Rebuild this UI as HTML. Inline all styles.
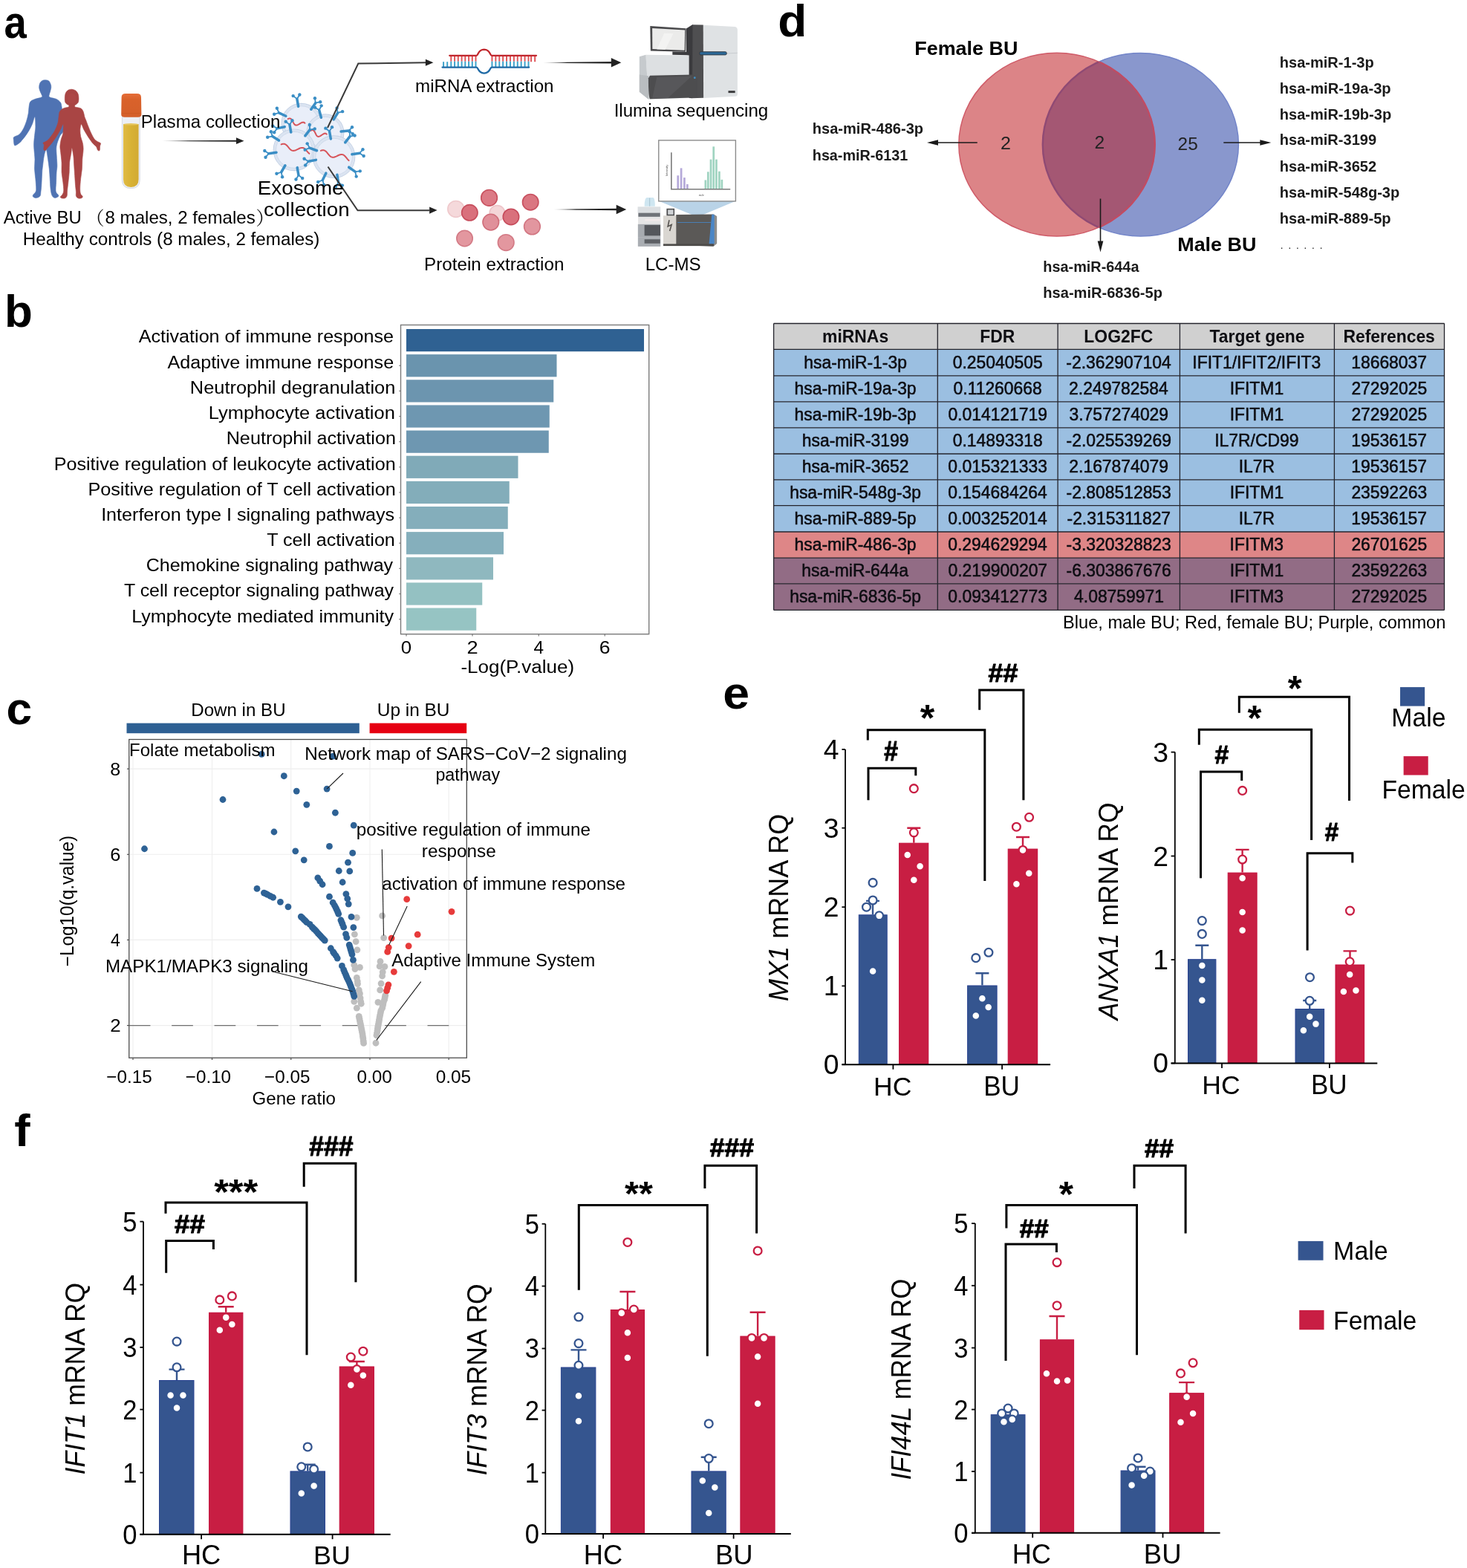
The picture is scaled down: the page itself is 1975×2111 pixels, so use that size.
<!DOCTYPE html>
<html lang="en"><head><meta charset="utf-8"><title>Figure</title>
<style>
html,body{margin:0;padding:0;background:#fff;}
body{width:1975px;height:2111px;overflow:hidden;}
svg{display:block;font-family:"Liberation Sans","Noto Sans CJK SC",sans-serif;}
</style></head><body>
<svg width="1975" height="2111" viewBox="0 0 1975 2111">
<rect width="1975" height="2111" fill="#fff"/>
<g id="panel-a">
<text transform="translate(5.57,51.1) scale(0.8990,1)" font-size="60.5" font-weight="bold">a</text>
<path d="M60.62 107.75 C62.08 107.78 64.21 107.89 65.46 108.8 C66.7 109.71 67.54 111.74 68.1 113.2 C68.66 114.67 68.88 115.99 68.8 117.61 C68.73 119.22 68.07 121.27 67.66 122.89 C67.25 124.5 66.48 125.97 66.34 127.29 C66.19 128.61 65.16 129.78 66.78 130.81 C68.39 131.84 73.6 132.28 76.02 133.45 C78.44 134.62 80.13 136.09 81.3 137.85 C82.48 139.61 82.48 140.05 83.06 144.01 C83.65 147.98 84.31 156.48 84.82 161.62 C85.34 166.75 86.88 171.16 86.14 174.82 C85.41 178.49 82.11 179.96 80.42 183.63 C78.74 187.29 76.73 192.43 76.02 196.83 C75.32 201.23 76.05 205.63 76.2 210.04 C76.34 214.44 76.93 219.57 76.9 223.24 C76.87 226.91 76.24 228.37 76.02 232.04 C75.8 235.71 75.73 240.99 75.58 245.25 C75.43 249.5 74.63 254.64 75.14 257.57 C75.65 260.5 78.22 261.61 78.66 262.85 C79.1 264.1 78.66 264.47 77.78 265.05 C76.9 265.64 74.7 266.74 73.38 266.37 C72.06 266.01 70.74 264.91 69.86 262.85 C68.98 260.8 68.54 257.72 68.1 254.05 C67.66 250.38 67.51 245.25 67.22 240.85 C66.92 236.44 66.78 232.04 66.34 227.64 C65.9 223.24 65.19 218.69 64.58 214.44 C63.96 210.18 63.15 204.17 62.64 202.11 C62.13 200.06 62.05 200.79 61.5 202.11 C60.94 203.43 59.96 206.51 59.3 210.04 C58.64 213.56 57.98 219.57 57.54 223.24 C57.1 226.91 56.95 227.64 56.65 232.04 C56.36 236.44 56.07 245.25 55.77 249.65 C55.48 254.05 55.19 256.1 54.89 258.45 C54.6 260.8 54.89 262.41 54.01 263.73 C53.13 265.05 51.08 266.08 49.61 266.37 C48.15 266.67 46.09 266.08 45.21 265.49 C44.33 264.91 43.89 264.03 44.33 262.85 C44.77 261.68 47.12 259.92 47.85 258.45 C48.59 256.98 48.73 256.98 48.73 254.05 C48.73 251.12 48.22 245.25 47.85 240.85 C47.49 236.44 46.68 232.04 46.53 227.64 C46.38 223.24 47.07 218.84 46.97 214.44 C46.87 210.04 46.14 204.9 45.92 201.23 C45.7 197.56 45.48 196.1 45.65 192.43 C45.83 188.76 46.61 182.89 46.97 179.23 C47.34 175.56 47.85 174.09 47.85 170.42 C47.85 166.75 47.71 157.81 46.97 157.22 C46.24 156.63 44.77 163.82 43.45 166.9 C42.13 169.98 40.66 172.92 39.05 175.7 C37.44 178.49 35.38 181.43 33.77 183.63 C32.15 185.83 30.54 187.51 29.37 188.91 C28.19 190.3 28.05 190.89 26.73 191.99 C25.4 193.09 22.69 195 21.44 195.51 C20.2 196.02 19.76 196.32 19.24 195.07 C18.73 193.82 18.44 189.79 18.36 188.03 C18.29 186.27 17.56 185.68 18.8 184.51 C20.05 183.33 23.79 182.75 25.85 180.99 C27.9 179.23 29.51 176.88 31.13 173.94 C32.74 171.01 34.35 166.9 35.53 163.38 C36.7 159.86 37.58 156.04 38.17 152.82 C38.76 149.59 38.61 146.65 39.05 144.01 C39.49 141.37 39.49 138.73 40.81 136.97 C42.13 135.21 44.4 134.48 46.97 133.45 C49.54 132.42 54.72 131.84 56.21 130.81 C57.71 129.78 56.32 128.61 55.95 127.29 C55.58 125.97 54.56 124.43 54.01 122.89 C53.47 121.35 52.77 119.81 52.69 118.05 C52.62 116.29 52.91 113.89 53.57 112.32 C54.23 110.75 55.48 109.39 56.65 108.63 C57.83 107.86 59.15 107.72 60.62 107.75Z" fill="#4f73b3" stroke="#4f73b3" stroke-width="0.6" stroke-linejoin="round"/>
<path d="M95.83 120.25 C97.62 120.22 100.01 120.8 101.55 121.83 C103.09 122.86 104.34 124.62 105.07 126.41 C105.8 128.2 105.92 130.66 105.95 132.57 C105.98 134.48 105.83 136.5 105.25 137.85 C104.66 139.2 103.12 140.08 102.43 140.67 C101.74 141.26 101.33 140.82 101.11 141.37 C100.89 141.93 99.86 143.28 101.11 144.01 C102.36 144.75 106.76 144.75 108.59 145.77 C110.43 146.8 111.23 148.27 112.11 150.18 C112.99 152.08 113.29 155.31 113.87 157.22 C114.46 159.13 114.9 159.71 115.63 161.62 C116.37 163.53 117.1 165.73 118.27 168.66 C119.45 171.6 121.21 176.14 122.68 179.23 C124.14 182.31 125.61 185.24 127.08 187.15 C128.54 189.06 130.09 189.72 131.48 190.67 C132.87 191.62 134.93 191.84 135.44 192.87 C135.95 193.9 134.78 195.22 134.56 196.83 C134.34 198.44 134.63 201.67 134.12 202.55 C133.61 203.43 132.21 202.92 131.48 202.11 C130.75 201.31 130.89 199.33 129.72 197.71 C128.54 196.1 126.34 194.78 124.44 192.43 C122.53 190.08 120.18 186.56 118.27 183.63 C116.37 180.69 114.46 177.54 112.99 174.82 C111.53 172.11 110.32 167.34 109.47 167.34 C108.62 167.34 108.03 172.11 107.89 174.82 C107.74 177.54 108.03 180.69 108.59 183.63 C109.15 186.56 110.65 189.5 111.23 192.43 C111.82 195.36 112.19 197.56 112.11 201.23 C112.04 204.9 111.09 210.04 110.79 214.44 C110.5 218.84 110.72 223.24 110.35 227.64 C109.99 232.04 109.03 236.44 108.59 240.85 C108.15 245.25 107.71 250.67 107.71 254.05 C107.71 257.42 108 259.33 108.59 261.09 C109.18 262.85 111.09 263.66 111.23 264.61 C111.38 265.57 110.5 266.45 109.47 266.81 C108.44 267.18 106.24 267.33 105.07 266.81 C103.9 266.3 102.87 265.13 102.43 263.73 C101.99 262.34 102.58 260.8 102.43 258.45 C102.28 256.1 101.84 253.32 101.55 249.65 C101.26 245.98 100.96 240.85 100.67 236.44 C100.38 232.04 100.08 227.64 99.79 223.24 C99.5 218.84 99.35 213.92 98.91 210.04 C98.47 206.15 97.56 201.6 97.15 199.91 C96.74 198.22 96.66 198.96 96.44 199.91 C96.22 200.87 96.3 202.48 95.83 205.63 C95.36 208.79 94.07 214.44 93.63 218.84 C93.19 223.24 93.48 227.64 93.19 232.04 C92.89 236.44 92.31 241.14 91.87 245.25 C91.43 249.35 90.84 253.61 90.55 256.69 C90.25 259.77 90.62 262.05 90.11 263.73 C89.59 265.42 88.64 266.3 87.46 266.81 C86.29 267.33 84.09 267.11 83.06 266.81 C82.04 266.52 81.16 265.86 81.3 265.05 C81.45 264.25 83.21 263.37 83.94 261.97 C84.68 260.58 85.56 259.48 85.7 256.69 C85.85 253.9 85.26 249.35 84.82 245.25 C84.38 241.14 83.36 236.44 83.06 232.04 C82.77 227.64 83.28 223.24 83.06 218.84 C82.84 214.44 82.11 209.3 81.74 205.63 C81.38 201.97 80.79 199.77 80.86 196.83 C80.94 193.9 81.52 190.96 82.18 188.03 C82.84 185.09 84.35 182.67 84.82 179.23 C85.29 175.78 85.59 168.08 85 167.34 C84.41 166.61 82.8 172.11 81.3 174.82 C79.81 177.54 77.93 180.69 76.02 183.63 C74.11 186.56 71.77 189.94 69.86 192.43 C67.95 194.92 66.04 196.9 64.58 198.59 C63.11 200.28 62.01 202.11 61.06 202.55 C60.1 202.99 59.15 202.48 58.86 201.23 C58.56 199.99 59.44 196.54 59.3 195.07 C59.15 193.6 57.39 193.31 57.98 192.43 C58.56 191.55 61.28 190.96 62.82 189.79 C64.36 188.62 65.46 187.59 67.22 185.39 C68.98 183.19 71.62 179.81 73.38 176.58 C75.14 173.36 76.83 169.25 77.78 166.02 C78.74 162.79 78.66 159.86 79.1 157.22 C79.54 154.58 79.32 152.08 80.42 150.18 C81.52 148.27 83.72 146.8 85.7 145.77 C87.68 144.75 91.19 144.75 92.31 144.01 C93.42 143.28 92.69 141.93 92.39 141.37 C92.1 140.82 91.29 141.26 90.55 140.67 C89.8 140.08 88.45 139.2 87.9 137.85 C87.36 136.5 87.27 134.48 87.29 132.57 C87.3 130.66 87.41 128.17 87.99 126.41 C88.58 124.65 89.5 123.03 90.81 122.01 C92.12 120.98 94.04 120.28 95.83 120.25Z" fill="#a94544" stroke="#a94544" stroke-width="0.6" stroke-linejoin="round"/>
<ellipse cx="96.71" cy="132.57" rx="5.6" ry="7" fill="#b04a48" opacity="0.6"/>
<defs><linearGradient id="tubeliq" x1="0" x2="1" y1="0" y2="0"><stop offset="0" stop-color="#e0bb45"/><stop offset="0.5" stop-color="#d8b235"/><stop offset="1" stop-color="#d2aa33"/></linearGradient><linearGradient id="tubecap" x1="0" x2="0" y1="0" y2="1"><stop offset="0" stop-color="#e56d38"/><stop offset="0.25" stop-color="#d9622b"/><stop offset="1" stop-color="#d45f2a"/></linearGradient></defs>
<path d="M164.4 155 V242.5 Q164.4 253.6 176.3 253.6 Q188.2 253.6 188.2 242.5 V155 Z" fill="#eceff5" stroke="#d5dae4" stroke-width="1"/>
<path d="M166 167 H186.6 V241.5 Q186.6 252 176.3 252 Q166 252 166 241.5 Z" fill="url(#tubeliq)"/>
<ellipse cx="176.3" cy="167.3" rx="10.3" ry="1.2" fill="#e6c660"/>
<path d="M163.6 131 Q163.6 126 169 126 H184.6 Q190 126 190 131 L190.4 154 Q190.4 157.8 186 157.8 H167.6 Q163.2 157.8 163.2 154 Z" fill="url(#tubecap)"/>
<path d="M164 152.6 H190" stroke="#c2561f" stroke-width="0.8" opacity="0.6"/>
<defs><linearGradient id="fade" x1="0" x2="1" y1="0" y2="0"><stop offset="0" stop-color="#222" stop-opacity="0"/><stop offset="0.35" stop-color="#222" stop-opacity="1"/></linearGradient></defs>
<polygon points="218.5,189.4 319,188.75 319,190.65 218.5,190" fill="url(#fade)"/><polygon points="328.5,189.7 318,194.1 318,185.3" fill="#222"/>
<circle cx="405.65" cy="165.97" r="26.61" fill="#e9eef9" stroke="#c6d3e6" stroke-width="1.1"/>
<circle cx="405.65" cy="165.97" r="24.81" fill="none" stroke="#dbe4f1" stroke-width="2.4"/>
<circle cx="405.65" cy="165.97" r="23.21" fill="none" stroke="#c9d6e8" stroke-width="0.9"/>
<path d="M387.61 160.14 L388.31 159.83 L388.99 159.6 L389.63 159.47 L390.25 159.46 L390.83 159.57 L391.37 159.8 L391.88 160.15 L392.36 160.61 L392.81 161.17 L393.24 161.81 L393.64 162.53 L394.04 163.29 L394.43 164.07 L394.81 164.85 L395.21 165.6 L395.62 166.31 L396.05 166.95 L396.5 167.5 L396.98 167.94 L397.5 168.28 L398.05 168.5 L398.63 168.59 L399.25 168.56 L399.9 168.43 L400.58 168.19 L401.28 167.86 L402 167.47 L402.74 167.04 L403.48 166.58 L404.22 166.12 L404.95 165.69 L405.67 165.31 L406.37 164.99 L407.05 164.76 L407.7 164.64 L408.31 164.62 L408.89 164.73 L409.44 164.96 L409.95 165.31 L410.43 165.77" fill="none" stroke="#d7545a" stroke-width="2.0" stroke-linecap="round" stroke-linejoin="round"/>
<path d="M401.67 143.4 L399.86 133.16" stroke="#3a8ec5" stroke-width="3.5" stroke-linecap="round" fill="none"/><path d="M399.86 133.16 L394.66 129.1" stroke="#3a8ec5" stroke-width="1.7999999999999998" stroke-linecap="round" fill="none"/><circle cx="394.66" cy="129.1" r="2.2" fill="#3a8ec5"/><path d="M399.86 133.16 L403.36 127.56" stroke="#3a8ec5" stroke-width="1.7999999999999998" stroke-linecap="round" fill="none"/><circle cx="403.36" cy="127.56" r="2.2" fill="#3a8ec5"/>
<path d="M384.88 156.28 L375.45 151.89" stroke="#3a8ec5" stroke-width="3.5" stroke-linecap="round" fill="none"/><path d="M375.45 151.89 L369.14 153.82" stroke="#3a8ec5" stroke-width="1.7999999999999998" stroke-linecap="round" fill="none"/><circle cx="369.14" cy="153.82" r="2.2" fill="#3a8ec5"/><path d="M375.45 151.89 L372.87 145.81" stroke="#3a8ec5" stroke-width="1.7999999999999998" stroke-linecap="round" fill="none"/><circle cx="372.87" cy="145.81" r="2.2" fill="#3a8ec5"/>
<path d="M418.79 147.2 L424.75 138.68" stroke="#3a8ec5" stroke-width="3.5" stroke-linecap="round" fill="none"/><path d="M424.75 138.68 L423.95 132.13" stroke="#3a8ec5" stroke-width="1.7999999999999998" stroke-linecap="round" fill="none"/><circle cx="423.95" cy="132.13" r="2.2" fill="#3a8ec5"/><path d="M424.75 138.68 L431.18 137.19" stroke="#3a8ec5" stroke-width="1.7999999999999998" stroke-linecap="round" fill="none"/><circle cx="431.18" cy="137.19" r="2.2" fill="#3a8ec5"/>
<path d="M383.23 170.73 L373.06 172.89" stroke="#3a8ec5" stroke-width="3.5" stroke-linecap="round" fill="none"/><path d="M373.06 172.89 L369.18 178.23" stroke="#3a8ec5" stroke-width="1.7999999999999998" stroke-linecap="round" fill="none"/><circle cx="369.18" cy="178.23" r="2.2" fill="#3a8ec5"/><path d="M373.06 172.89 L367.34 169.59" stroke="#3a8ec5" stroke-width="1.7999999999999998" stroke-linecap="round" fill="none"/><circle cx="367.34" cy="169.59" r="2.2" fill="#3a8ec5"/>
<circle cx="437.9" cy="178.87" r="25" fill="#e9eef9" stroke="#c6d3e6" stroke-width="1.1"/>
<circle cx="437.9" cy="178.87" r="23.2" fill="none" stroke="#dbe4f1" stroke-width="2.4"/>
<circle cx="437.9" cy="178.87" r="21.6" fill="none" stroke="#c9d6e8" stroke-width="0.9"/>
<path d="M418.22 175.86 L418.88 175.52 L419.52 175.27 L420.13 175.12 L420.71 175.09 L421.26 175.18 L421.77 175.39 L422.26 175.72 L422.71 176.16 L423.14 176.7 L423.55 177.33 L423.93 178.03 L424.31 178.77 L424.68 179.53 L425.05 180.29 L425.43 181.03 L425.81 181.72 L426.22 182.34 L426.65 182.87 L427.11 183.3 L427.6 183.62 L428.12 183.82 L428.67 183.89 L429.26 183.84 L429.87 183.68 L430.51 183.42 L431.17 183.07 L431.85 182.66 L432.55 182.2 L433.25 181.72 L433.94 181.24 L434.64 180.78 L435.31 180.38 L435.98 180.04 L436.61 179.79 L437.22 179.64 L437.8 179.61 L438.35 179.69 L438.87 179.9 L439.35 180.23 L439.81 180.67" fill="none" stroke="#d7545a" stroke-width="2.0" stroke-linecap="round" stroke-linejoin="round"/>
<path d="M432.39 158.3 L429.7 148.25" stroke="#3a8ec5" stroke-width="3.5" stroke-linecap="round" fill="none"/><path d="M429.7 148.25 L424.16 144.66" stroke="#3a8ec5" stroke-width="1.7999999999999998" stroke-linecap="round" fill="none"/><circle cx="424.16" cy="144.66" r="2.2" fill="#3a8ec5"/><path d="M429.7 148.25 L432.69 142.37" stroke="#3a8ec5" stroke-width="1.7999999999999998" stroke-linecap="round" fill="none"/><circle cx="432.69" cy="142.37" r="2.2" fill="#3a8ec5"/>
<path d="M449.19 160.81 L454.7 151.99" stroke="#3a8ec5" stroke-width="3.5" stroke-linecap="round" fill="none"/><path d="M454.7 151.99 L453.56 145.49" stroke="#3a8ec5" stroke-width="1.7999999999999998" stroke-linecap="round" fill="none"/><circle cx="453.56" cy="145.49" r="2.2" fill="#3a8ec5"/><path d="M454.7 151.99 L461.05 150.17" stroke="#3a8ec5" stroke-width="1.7999999999999998" stroke-linecap="round" fill="none"/><circle cx="461.05" cy="150.17" r="2.2" fill="#3a8ec5"/>
<path d="M459.12 177.01 L469.48 176.11" stroke="#3a8ec5" stroke-width="3.5" stroke-linecap="round" fill="none"/><path d="M469.48 176.11 L473.98 171.28" stroke="#3a8ec5" stroke-width="1.7999999999999998" stroke-linecap="round" fill="none"/><circle cx="473.98" cy="171.28" r="2.2" fill="#3a8ec5"/><path d="M469.48 176.11 L474.75 180.08" stroke="#3a8ec5" stroke-width="1.7999999999999998" stroke-linecap="round" fill="none"/><circle cx="474.75" cy="180.08" r="2.2" fill="#3a8ec5"/>
<circle cx="395.97" cy="201.85" r="27.82" fill="#e9eef9" stroke="#c6d3e6" stroke-width="1.1"/>
<circle cx="395.97" cy="201.85" r="26.02" fill="none" stroke="#dbe4f1" stroke-width="2.4"/>
<circle cx="395.97" cy="201.85" r="24.42" fill="none" stroke="#c9d6e8" stroke-width="0.9"/>
<path d="M378.61 194.39 L379.7 194 L380.76 193.75 L381.78 193.68 L382.77 193.79 L383.72 194.08 L384.63 194.57 L385.5 195.22 L386.34 196.01 L387.17 196.92 L387.98 197.88 L388.78 198.87 L389.59 199.83 L390.41 200.72 L391.26 201.5 L392.14 202.13 L393.05 202.59 L394 202.87 L395 202.95 L396.03 202.85 L397.09 202.59 L398.19 202.19 L399.3 201.68 L400.43 201.12 L401.56 200.53 L402.68 199.98 L403.79 199.5 L404.88 199.14 L405.93 198.93 L406.95 198.89 L407.93 199.03 L408.87 199.37 L409.77 199.89 L410.64 200.57 L411.48 201.39 L412.3 202.3 L413.1 203.27 L413.91 204.26 L414.72 205.21 L415.55 206.08 L416.4 206.83" fill="none" stroke="#d7545a" stroke-width="2.0" stroke-linecap="round" stroke-linejoin="round"/>
<path d="M400.16 225.61 L401.96 235.85" stroke="#3a8ec5" stroke-width="3.5" stroke-linecap="round" fill="none"/><path d="M401.96 235.85 L407.16 239.92" stroke="#3a8ec5" stroke-width="1.7999999999999998" stroke-linecap="round" fill="none"/><circle cx="407.16" cy="239.92" r="2.2" fill="#3a8ec5"/><path d="M401.96 235.85 L398.47 241.45" stroke="#3a8ec5" stroke-width="1.7999999999999998" stroke-linecap="round" fill="none"/><circle cx="398.47" cy="241.45" r="2.2" fill="#3a8ec5"/>
<path d="M383.91 222.75 L378.71 231.75" stroke="#3a8ec5" stroke-width="3.5" stroke-linecap="round" fill="none"/><path d="M378.71 231.75 L380.08 238.21" stroke="#3a8ec5" stroke-width="1.7999999999999998" stroke-linecap="round" fill="none"/><circle cx="380.08" cy="238.21" r="2.2" fill="#3a8ec5"/><path d="M378.71 231.75 L372.43 233.79" stroke="#3a8ec5" stroke-width="1.7999999999999998" stroke-linecap="round" fill="none"/><circle cx="372.43" cy="233.79" r="2.2" fill="#3a8ec5"/>
<path d="M372.08 205.21 L361.78 206.66" stroke="#3a8ec5" stroke-width="3.5" stroke-linecap="round" fill="none"/><path d="M361.78 206.66 L357.54 211.72" stroke="#3a8ec5" stroke-width="1.7999999999999998" stroke-linecap="round" fill="none"/><circle cx="357.54" cy="211.72" r="2.2" fill="#3a8ec5"/><path d="M361.78 206.66 L356.31 202.97" stroke="#3a8ec5" stroke-width="1.7999999999999998" stroke-linecap="round" fill="none"/><circle cx="356.31" cy="202.97" r="2.2" fill="#3a8ec5"/>
<path d="M375.51 189.07 L366.69 183.56" stroke="#3a8ec5" stroke-width="3.5" stroke-linecap="round" fill="none"/><path d="M366.69 183.56 L360.19 184.71" stroke="#3a8ec5" stroke-width="1.7999999999999998" stroke-linecap="round" fill="none"/><circle cx="360.19" cy="184.71" r="2.2" fill="#3a8ec5"/><path d="M366.69 183.56 L364.87 177.22" stroke="#3a8ec5" stroke-width="1.7999999999999998" stroke-linecap="round" fill="none"/><circle cx="364.87" cy="177.22" r="2.2" fill="#3a8ec5"/>
<path d="M391.78 178.1 L389.97 167.86" stroke="#3a8ec5" stroke-width="3.5" stroke-linecap="round" fill="none"/><path d="M389.97 167.86 L384.77 163.79" stroke="#3a8ec5" stroke-width="1.7999999999999998" stroke-linecap="round" fill="none"/><circle cx="384.77" cy="163.79" r="2.2" fill="#3a8ec5"/><path d="M389.97 167.86 L393.47 162.26" stroke="#3a8ec5" stroke-width="1.7999999999999998" stroke-linecap="round" fill="none"/><circle cx="393.47" cy="162.26" r="2.2" fill="#3a8ec5"/>
<path d="M410.82 182.85 L417.22 174.65" stroke="#3a8ec5" stroke-width="3.5" stroke-linecap="round" fill="none"/><path d="M417.22 174.65 L416.76 168.07" stroke="#3a8ec5" stroke-width="1.7999999999999998" stroke-linecap="round" fill="none"/><circle cx="416.76" cy="168.07" r="2.2" fill="#3a8ec5"/><path d="M417.22 174.65 L423.72 173.5" stroke="#3a8ec5" stroke-width="1.7999999999999998" stroke-linecap="round" fill="none"/><circle cx="423.72" cy="173.5" r="2.2" fill="#3a8ec5"/>
<circle cx="449.6" cy="211.13" r="28.23" fill="#e9eef9" stroke="#c6d3e6" stroke-width="1.1"/>
<circle cx="449.6" cy="211.13" r="26.43" fill="none" stroke="#dbe4f1" stroke-width="2.4"/>
<circle cx="449.6" cy="211.13" r="24.83" fill="none" stroke="#c9d6e8" stroke-width="0.9"/>
<path d="M431.87 202.86 L432.97 202.5 L434.04 202.27 L435.07 202.22 L436.06 202.35 L437.01 202.67 L437.91 203.17 L438.77 203.84 L439.61 204.65 L440.41 205.57 L441.21 206.55 L442 207.56 L442.79 208.53 L443.6 209.44 L444.44 210.23 L445.31 210.89 L446.22 211.37 L447.17 211.66 L448.16 211.77 L449.2 211.69 L450.27 211.45 L451.38 211.07 L452.51 210.59 L453.65 210.05 L454.79 209.49 L455.93 208.96 L457.06 208.5 L458.15 208.16 L459.22 207.97 L460.24 207.95 L461.22 208.12 L462.16 208.47 L463.05 209.01 L463.91 209.71 L464.74 210.55 L465.54 211.48 L466.33 212.47 L467.12 213.47 L467.92 214.44 L468.74 215.33 L469.58 216.1" fill="none" stroke="#d7545a" stroke-width="2.0" stroke-linecap="round" stroke-linejoin="round"/>
<path d="M445.34 186.98 L443.53 176.73" stroke="#3a8ec5" stroke-width="3.5" stroke-linecap="round" fill="none"/><path d="M443.53 176.73 L438.33 172.67" stroke="#3a8ec5" stroke-width="1.7999999999999998" stroke-linecap="round" fill="none"/><circle cx="438.33" cy="172.67" r="2.2" fill="#3a8ec5"/><path d="M443.53 176.73 L447.03 171.14" stroke="#3a8ec5" stroke-width="1.7999999999999998" stroke-linecap="round" fill="none"/><circle cx="447.03" cy="171.14" r="2.2" fill="#3a8ec5"/>
<path d="M464.7 191.8 L471.1 183.61" stroke="#3a8ec5" stroke-width="3.5" stroke-linecap="round" fill="none"/><path d="M471.1 183.61 L470.64 177.02" stroke="#3a8ec5" stroke-width="1.7999999999999998" stroke-linecap="round" fill="none"/><circle cx="470.64" cy="177.02" r="2.2" fill="#3a8ec5"/><path d="M471.1 183.61 L477.6 182.46" stroke="#3a8ec5" stroke-width="1.7999999999999998" stroke-linecap="round" fill="none"/><circle cx="477.6" cy="182.46" r="2.2" fill="#3a8ec5"/>
<path d="M473.88 207.72 L484.18 206.27" stroke="#3a8ec5" stroke-width="3.5" stroke-linecap="round" fill="none"/><path d="M484.18 206.27 L488.43 201.21" stroke="#3a8ec5" stroke-width="1.7999999999999998" stroke-linecap="round" fill="none"/><circle cx="488.43" cy="201.21" r="2.2" fill="#3a8ec5"/><path d="M484.18 206.27 L489.65 209.96" stroke="#3a8ec5" stroke-width="1.7999999999999998" stroke-linecap="round" fill="none"/><circle cx="489.65" cy="209.96" r="2.2" fill="#3a8ec5"/>
<path d="M469.69 225.2 L478.21 231.16" stroke="#3a8ec5" stroke-width="3.5" stroke-linecap="round" fill="none"/><path d="M478.21 231.16 L484.76 230.36" stroke="#3a8ec5" stroke-width="1.7999999999999998" stroke-linecap="round" fill="none"/><circle cx="484.76" cy="230.36" r="2.2" fill="#3a8ec5"/><path d="M478.21 231.16 L479.69 237.59" stroke="#3a8ec5" stroke-width="1.7999999999999998" stroke-linecap="round" fill="none"/><circle cx="479.69" cy="237.59" r="2.2" fill="#3a8ec5"/>
<path d="M453.86 235.28 L455.66 245.52" stroke="#3a8ec5" stroke-width="3.5" stroke-linecap="round" fill="none"/><path d="M455.66 245.52 L460.86 249.59" stroke="#3a8ec5" stroke-width="1.7999999999999998" stroke-linecap="round" fill="none"/><circle cx="460.86" cy="249.59" r="2.2" fill="#3a8ec5"/><path d="M455.66 245.52 L452.16 251.12" stroke="#3a8ec5" stroke-width="1.7999999999999998" stroke-linecap="round" fill="none"/><circle cx="452.16" cy="251.12" r="2.2" fill="#3a8ec5"/>
<path d="M438.85 233.17 L434.29 242.52" stroke="#3a8ec5" stroke-width="3.5" stroke-linecap="round" fill="none"/><path d="M434.29 242.52 L436.11 248.86" stroke="#3a8ec5" stroke-width="1.7999999999999998" stroke-linecap="round" fill="none"/><circle cx="436.11" cy="248.86" r="2.2" fill="#3a8ec5"/><path d="M434.29 242.52 L428.17 244.99" stroke="#3a8ec5" stroke-width="1.7999999999999998" stroke-linecap="round" fill="none"/><circle cx="428.17" cy="244.99" r="2.2" fill="#3a8ec5"/>
<path d="M426.55 202.74 L416.78 199.18" stroke="#3a8ec5" stroke-width="3.5" stroke-linecap="round" fill="none"/><path d="M416.78 199.18 L410.66 201.66" stroke="#3a8ec5" stroke-width="1.7999999999999998" stroke-linecap="round" fill="none"/><circle cx="410.66" cy="201.66" r="2.2" fill="#3a8ec5"/><path d="M416.78 199.18 L413.68 193.36" stroke="#3a8ec5" stroke-width="1.7999999999999998" stroke-linecap="round" fill="none"/><circle cx="413.68" cy="193.36" r="2.2" fill="#3a8ec5"/>
<path d="M425.44 215.39 L415.2 217.19" stroke="#3a8ec5" stroke-width="3.5" stroke-linecap="round" fill="none"/><path d="M415.2 217.19 L411.14 222.39" stroke="#3a8ec5" stroke-width="1.7999999999999998" stroke-linecap="round" fill="none"/><circle cx="411.14" cy="222.39" r="2.2" fill="#3a8ec5"/><path d="M415.2 217.19 L409.6 213.7" stroke="#3a8ec5" stroke-width="1.7999999999999998" stroke-linecap="round" fill="none"/><circle cx="409.6" cy="213.7" r="2.2" fill="#3a8ec5"/>
<path d="M441 172 L482.3 85.6 L574 84.2" fill="none" stroke="#3a3a3a" stroke-width="2"/>
<polygon points="583.4,84.2 572.9,88.7 572.9,79.7" fill="#222"/>
<path d="M441.5 224.5 L481.5 283.2 L578 283.2" fill="none" stroke="#3a3a3a" stroke-width="2"/>
<polygon points="588.6,283.1 578.1,287.7 578.1,278.5" fill="#222"/>
<rect x="606.29" y="75.54" width="2" height="7.15" fill="#e0565a"/>
<rect x="606.29" y="82.69" width="2" height="7.36" fill="#3ea3cb"/>
<rect x="611.09" y="75.54" width="2" height="7.15" fill="#e0565a"/>
<rect x="611.09" y="82.69" width="2" height="7.36" fill="#3ea3cb"/>
<rect x="615.79" y="75.54" width="2" height="7.15" fill="#e0565a"/>
<rect x="615.79" y="82.69" width="2" height="7.36" fill="#3ea3cb"/>
<rect x="620.59" y="75.54" width="2" height="7.15" fill="#e0565a"/>
<rect x="620.59" y="82.69" width="2" height="7.36" fill="#3ea3cb"/>
<rect x="625.29" y="75.54" width="2" height="7.15" fill="#e0565a"/>
<rect x="625.29" y="82.69" width="2" height="7.36" fill="#3ea3cb"/>
<rect x="630.09" y="75.54" width="2" height="7.15" fill="#e0565a"/>
<rect x="630.09" y="82.69" width="2" height="7.36" fill="#3ea3cb"/>
<rect x="634.79" y="75.54" width="2" height="7.15" fill="#e0565a"/>
<rect x="634.79" y="82.69" width="2" height="7.36" fill="#3ea3cb"/>
<rect x="639.49" y="75.54" width="2" height="7.15" fill="#e0565a"/>
<rect x="639.49" y="82.69" width="2" height="7.36" fill="#3ea3cb"/>
<rect x="661.45" y="75.54" width="2" height="7.15" fill="#e0565a"/>
<rect x="661.45" y="82.69" width="2" height="7.36" fill="#3ea3cb"/>
<rect x="666.35" y="75.54" width="2" height="7.15" fill="#e0565a"/>
<rect x="666.35" y="82.69" width="2" height="7.36" fill="#3ea3cb"/>
<rect x="671.26" y="75.54" width="2" height="7.15" fill="#e0565a"/>
<rect x="671.26" y="82.69" width="2" height="7.36" fill="#3ea3cb"/>
<rect x="676.16" y="75.54" width="2" height="7.15" fill="#e0565a"/>
<rect x="676.16" y="82.69" width="2" height="7.36" fill="#3ea3cb"/>
<rect x="681.06" y="75.54" width="2" height="7.15" fill="#e0565a"/>
<rect x="681.06" y="82.69" width="2" height="7.36" fill="#3ea3cb"/>
<rect x="685.97" y="75.54" width="2" height="7.15" fill="#e0565a"/>
<rect x="685.97" y="82.69" width="2" height="7.36" fill="#3ea3cb"/>
<rect x="690.87" y="75.54" width="2" height="7.15" fill="#e0565a"/>
<rect x="690.87" y="82.69" width="2" height="7.36" fill="#3ea3cb"/>
<rect x="695.77" y="75.54" width="2" height="7.15" fill="#e0565a"/>
<rect x="695.77" y="82.69" width="2" height="7.36" fill="#3ea3cb"/>
<rect x="700.68" y="75.54" width="2" height="7.15" fill="#e0565a"/>
<rect x="700.68" y="82.69" width="2" height="7.36" fill="#3ea3cb"/>
<rect x="705.58" y="75.54" width="2" height="7.15" fill="#e0565a"/>
<rect x="705.58" y="82.69" width="2" height="7.36" fill="#3ea3cb"/>
<rect x="710.49" y="75.54" width="2" height="7.15" fill="#e0565a"/>
<rect x="710.49" y="82.69" width="2" height="7.36" fill="#3ea3cb"/>
<rect x="596.07" y="83.2" width="2" height="6.84" fill="#3ea3cb"/>
<rect x="601.18" y="83.2" width="2" height="6.84" fill="#3ea3cb"/>
<rect x="714.06" y="75.54" width="2" height="7.66" fill="#e0565a"/>
<rect x="719.17" y="75.54" width="2" height="7.66" fill="#e0565a"/>
<path d="M605.24 74.82 H641.51 C644.06 74.82 643.04 66.86 651.72 66.65 C660.41 66.86 659.39 74.82 661.94 74.82 H722.01" fill="none" stroke="#c1272d" stroke-width="2.3" stroke-linecap="round"/>
<path d="M595.54 90.56 H641.51 C644.06 90.56 643.04 98.42 651.72 98.63 C660.41 98.42 659.39 90.56 661.94 90.56 H712.2" fill="none" stroke="#1f6aa5" stroke-width="2.3" stroke-linecap="round"/>
<polygon points="731,84 823.8,83 823.8,85.6 731,84.6" fill="url(#fade)"/><polygon points="836.3,84.3 822.8,90.5 822.8,78.1" fill="#222"/>
<polygon points="869.46,73.79 927.58,74.41 927.58,131.91 873.17,133.76" fill="#dde0e2"/>
<polygon points="860.81,76.26 869.46,73.79 873.17,133.76 860.81,123.87" fill="#c6cacd"/>
<polygon points="860.81,100.38 873.17,102.23 873.17,133.76 860.81,123.87" fill="#b9bdc0"/>
<path d="M946.75 33.85 L989.41 36.08 Q992.87 36.69 992.87 40.4 L992.87 126.96 Q992.87 129.43 990.03 129.81 L947.36 131.91 Z" fill="#dfe2e4"/>
<path d="M978.28 71.94 L992.87 71.32" stroke="#c3c7ca" stroke-width="0.8"/>
<polygon points="931.91,33.35 946.75,33.6 947.12,131.66 931.29,132.28" fill="#4f4f51"/>
<polygon points="923.87,38.55 932.53,33.11 931.91,132.28 927.58,131.91 927.58,74.41 923.87,73.79" fill="#3b3b3e"/>
<polygon points="875.27,35.09 923.62,38.3 923,69.83 875.89,68.6" fill="#4a4a4c"/>
<polygon points="878.12,37.93 922.14,40.53 921.64,67.73 878.37,66" fill="#ebebea"/>
<polygon points="894.19,44.73 906.56,45.35 895.43,66.99 884.3,66.49" fill="#f6f6f5" opacity="0.7"/>
<polygon points="905.32,69.46 926.59,70.08 926.59,74.16 905.32,73.67" fill="#3c3c3f"/>
<rect x="941.8" y="69.71" width="36.48" height="4.2" rx="1.8" fill="#2b6897" stroke="#33373b" stroke-width="0.9"/>
<path d="M875.03 101.86 L933.76 100.38 L938.96 106.56 L938.96 131.29 L875.03 133.27 Q872.92 131.29 872.92 105.32 Z" fill="#4d4d4f"/>
<polygon points="884.3,104.09 931.29,102.6 899.14,131.91 878.12,132.53" fill="#5a5a5c" opacity="0.8"/>
<circle cx="935.25" cy="104.7" r="1.4" fill="#3f8fc4"/>
<rect x="980.5" y="122.14" width="9.15" height="2.97" fill="#3a3a3c"/>
<circle cx="613.79" cy="281.42" r="10.95" fill="#f5d9db" stroke="#efc9cc" stroke-width="1.6"/>
<circle cx="669.43" cy="286.99" r="10.33" fill="#f4d6d8" stroke="#eec5c9" stroke-width="1.6"/>
<circle cx="658.55" cy="266.34" r="10.82" fill="#dc7a85" stroke="#c9525f" stroke-width="1.6"/>
<circle cx="660.78" cy="299.11" r="10.82" fill="#e0909a" stroke="#d06e7a" stroke-width="1.6"/>
<circle cx="632.34" cy="286.37" r="10.7" fill="#d9707c" stroke="#c74e5d" stroke-width="1.6"/>
<circle cx="687.98" cy="291.94" r="10.7" fill="#d9717c" stroke="#c64b5b" stroke-width="1.6"/>
<circle cx="714.2" cy="272.15" r="10.7" fill="#da7681" stroke="#c8505f" stroke-width="1.6"/>
<circle cx="716.42" cy="304.92" r="10.82" fill="#e2969f" stroke="#d27682" stroke-width="1.6"/>
<circle cx="625.54" cy="320.99" r="10.7" fill="#e3979f" stroke="#d37a85" stroke-width="1.6"/>
<circle cx="681.18" cy="326.56" r="10.82" fill="#e3979f" stroke="#d37a85" stroke-width="1.6"/>
<polygon points="745.5,281.7 830.7,280.7 830.7,283.3 745.5,282.3" fill="url(#fade)"/><polygon points="843.2,282 829.7,288.2 829.7,275.8" fill="#222"/>
<polygon points="887.76,270.89 989.66,270.89 944.89,289.81 938.71,291.91 933.14,289.81" fill="#b9d3e7"/>
<path d="M867.61 277.69 Q867.61 266.56 870.7 265.94 L879.35 265.94 Q881.83 266.56 881.83 277.69 Z" fill="#cfe6f1"/>
<rect x="874.16" y="266.56" width="0.99" height="11.13" fill="#a9c4d1"/>
<rect x="858.58" y="278.31" width="30.67" height="8.28" fill="#dcdfe2"/>
<rect x="859.32" y="286.59" width="29.43" height="5.32" fill="#6f7379"/>
<rect x="859.08" y="291.91" width="30.42" height="9.89" fill="#e5e5e6"/>
<rect x="868.23" y="295" width="21.02" height="2.47" fill="#f1e9ea"/>
<rect x="858.83" y="301.8" width="30.42" height="17.31" fill="#a7abb0"/>
<rect x="867.61" y="303.04" width="21.39" height="14.22" fill="#54575c"/>
<rect x="858.83" y="319.11" width="30.42" height="12.74" fill="#a9adb2"/>
<rect x="867.61" y="322.2" width="21.15" height="5.56" fill="#5d6065"/>
<rect x="892.96" y="290.3" width="17.56" height="38.7" fill="#d9d6d1"/>
<rect x="897.41" y="280.78" width="10.63" height="9.52" fill="#4a4a4c"/>
<rect x="899.14" y="282.39" width="7.42" height="6.43" fill="#d0d3d6"/>
<path d="M900.99 296.24 L899.14 304.89 L904.09 302.42 L901.61 311.07" fill="none" stroke="#55524f" stroke-width="1.6"/>
<polygon points="910.27,289.06 960.35,288.57 964.92,291.29 964.92,327.77 960.35,331.85 910.27,329.87" fill="#5b5957"/>
<polygon points="960.97,288.82 965.17,291.29 965.17,327.77 960.97,331.6" fill="#8d8d8c"/>
<polygon points="958.25,288.82 961.71,288.82 961.71,328.39 954.54,328.39" fill="#4a86c6"/>
<path d="M912.12 299.45 H957.5" stroke="#4a7fb4" stroke-width="1.1"/>
<rect x="892.96" y="328.39" width="68.01" height="2.72" fill="#4e4c4a"/>
<rect x="886.77" y="188.9" width="103.62" height="81.98" fill="#fff" stroke="#8c8c8c" stroke-width="1.4"/>
<rect x="911.38" y="236.26" width="2.72" height="18.18" fill="#b5a9d9"/>
<rect x="915.71" y="226.37" width="2.72" height="28.07" fill="#b5a9d9"/>
<rect x="920.04" y="239.11" width="2.72" height="15.33" fill="#b5a9d9"/>
<rect x="923.99" y="248.01" width="2.72" height="6.43" fill="#b5a9d9"/>
<rect x="948.48" y="242.45" width="2.72" height="11.99" fill="#a0d4c1"/>
<rect x="951.94" y="231.32" width="2.72" height="23.12" fill="#a0d4c1"/>
<rect x="955.65" y="214.62" width="2.72" height="39.82" fill="#a0d4c1"/>
<rect x="959.36" y="197.31" width="2.72" height="57.13" fill="#a0d4c1"/>
<rect x="963.07" y="214.62" width="2.72" height="39.82" fill="#a0d4c1"/>
<rect x="967.03" y="230.7" width="2.72" height="23.74" fill="#a0d4c1"/>
<rect x="970.49" y="241.83" width="2.72" height="12.61" fill="#a0d4c1"/>
<path d="M903.84 205.35 V254.81 H983.22" fill="none" stroke="#7b7b7b" stroke-width="1.6"/>
<text transform="translate(899.14,229.46) rotate(-90)" font-size="4.2" fill="#555" text-anchor="middle">Intensity</text>
<text x="944.27" y="264.09" font-size="4.4" fill="#555" text-anchor="middle" font-style="italic">m/z</text>
<text transform="translate(189.67,171.8) scale(1.0148,1)" font-size="23.8">Plasma collection</text>
<text transform="translate(346.78,261.6) scale(1.1115,1)" font-size="25">Exosome</text>
<text transform="translate(355.09,290.6) scale(1.1080,1)" font-size="25">collection</text>
<text transform="translate(559.03,123.8) scale(1.0146,1)" font-size="23.8">miRNA extraction</text>
<text transform="translate(826.63,157.4) scale(1.0132,1)" font-size="23.8">Ilumina sequencing</text>
<text transform="translate(571.06,363.7) scale(1.0170,1)" font-size="23.8">Protein extraction</text>
<text transform="translate(868.67,363.8) scale(1.0135,1)" font-size="23.8">LC-MS</text>
<text transform="translate(4.8,301.2) scale(1.0049,1)" font-size="23.8">Active BU</text>
<text x="115.5" y="303" font-size="25" font-family="'Liberation Sans','Noto Serif CJK SC',serif" fill="#111">（</text>
<text transform="translate(141.52,301.2) scale(1.0126,1)" font-size="23.8">8 males, 2 females</text>
<text x="344.6" y="303" font-size="25" font-family="'Liberation Sans','Noto Serif CJK SC',serif" fill="#111">）</text>
<text transform="translate(30.86,330.2) scale(1.0172,1)" font-size="23.8">Healthy controls (8 males, 2 females)</text>
</g>
<g id="panel-b">
<text transform="translate(5.97,440.4) scale(1.0245,1)" font-size="60.5" font-weight="bold">b</text>
<rect x="539.5" y="437.5" width="334.2" height="416.2" fill="#fff" stroke="#7a7a7a" stroke-width="1.4"/>
<rect x="547" y="443" width="320" height="30.2" fill="#2f6192"/>
<text transform="translate(186.7,461.3) scale(1.0340,1)" font-size="24.3">Activation of immune response</text>
<rect x="547" y="477.14" width="202.5" height="30.2" fill="#6a94ae"/>
<text transform="translate(225.4,495.75) scale(1.0357,1)" font-size="24.3">Adaptive immune response</text>
<line x1="537.3" x2="539.5" y1="492.24" y2="492.24" stroke="#7a7a7a" stroke-width="1.2"/>
<rect x="547" y="511.28" width="198.25" height="30.2" fill="#6c95af"/>
<text transform="translate(255.87,530) scale(1.0447,1)" font-size="24.3">Neutrophil degranulation</text>
<line x1="537.3" x2="539.5" y1="526.38" y2="526.38" stroke="#7a7a7a" stroke-width="1.2"/>
<rect x="547" y="545.42" width="192.75" height="30.2" fill="#6e97b1"/>
<text transform="translate(280.86,563.75) scale(1.0485,1)" font-size="24.3">Lymphocyte activation</text>
<line x1="537.3" x2="539.5" y1="560.52" y2="560.52" stroke="#7a7a7a" stroke-width="1.2"/>
<rect x="547" y="579.56" width="191.75" height="30.2" fill="#6e97b1"/>
<text transform="translate(304.68,598.25) scale(1.0368,1)" font-size="24.3">Neutrophil activation</text>
<line x1="537.3" x2="539.5" y1="594.66" y2="594.66" stroke="#7a7a7a" stroke-width="1.2"/>
<rect x="547" y="613.7" width="150.5" height="30.2" fill="#80aab8"/>
<text transform="translate(72.69,632.5) scale(1.0358,1)" font-size="24.3">Positive regulation of leukocyte activation</text>
<line x1="537.3" x2="539.5" y1="628.8" y2="628.8" stroke="#7a7a7a" stroke-width="1.2"/>
<rect x="547" y="647.84" width="138.75" height="30.2" fill="#83adba"/>
<text transform="translate(118.38,666.75) scale(1.0393,1)" font-size="24.3">Positive regulation of T cell activation</text>
<line x1="537.3" x2="539.5" y1="662.94" y2="662.94" stroke="#7a7a7a" stroke-width="1.2"/>
<rect x="547" y="681.98" width="136.75" height="30.2" fill="#84aebb"/>
<text transform="translate(136.14,700.75) scale(1.0335,1)" font-size="24.3">Interferon type I signaling pathways</text>
<line x1="537.3" x2="539.5" y1="697.08" y2="697.08" stroke="#7a7a7a" stroke-width="1.2"/>
<rect x="547" y="716.12" width="131" height="30.2" fill="#85afbc"/>
<text transform="translate(359.2,735) scale(1.0340,1)" font-size="24.3">T cell activation</text>
<line x1="537.3" x2="539.5" y1="731.22" y2="731.22" stroke="#7a7a7a" stroke-width="1.2"/>
<rect x="547" y="750.26" width="117" height="30.2" fill="#8fb8bf"/>
<text transform="translate(196.65,768.75) scale(1.0304,1)" font-size="24.3">Chemokine signaling pathway</text>
<line x1="537.3" x2="539.5" y1="765.36" y2="765.36" stroke="#7a7a7a" stroke-width="1.2"/>
<rect x="547" y="784.4" width="102.25" height="30.2" fill="#94c1c2"/>
<text transform="translate(166.9,803) scale(1.0282,1)" font-size="24.3">T cell receptor signaling pathway</text>
<line x1="537.3" x2="539.5" y1="799.5" y2="799.5" stroke="#7a7a7a" stroke-width="1.2"/>
<rect x="547" y="818.54" width="94.25" height="30.2" fill="#96c4c3"/>
<text transform="translate(177.14,837.5) scale(1.0363,1)" font-size="24.3">Lymphocyte mediated immunity</text>
<line x1="537.3" x2="539.5" y1="833.64" y2="833.64" stroke="#7a7a7a" stroke-width="1.2"/>
<line x1="547" x2="547" y1="853.7" y2="856.6" stroke="#7a7a7a" stroke-width="1.2"/>
<text transform="translate(539.77,880) scale(1.0417,1)" font-size="24.8">0</text>
<line x1="636" x2="636" y1="853.7" y2="856.6" stroke="#7a7a7a" stroke-width="1.2"/>
<text transform="translate(628.44,880) scale(1.0989,1)" font-size="24.8">2</text>
<line x1="725.25" x2="725.25" y1="853.7" y2="856.6" stroke="#7a7a7a" stroke-width="1.2"/>
<text transform="translate(718.56,880) scale(0.9804,1)" font-size="24.8">4</text>
<line x1="814.25" x2="814.25" y1="853.7" y2="856.6" stroke="#7a7a7a" stroke-width="1.2"/>
<text transform="translate(806.72,880) scale(1.0753,1)" font-size="24.8">6</text>
<text transform="translate(620.43,905.8) scale(1.0577,1)" font-size="24.6">-Log(P.value)</text>
</g>
<g id="panel-c">
<text transform="translate(8.51,975.4) scale(1.0292,1)" font-size="60.5" font-weight="bold">c</text>
<text transform="translate(257.27,963.6) scale(1.0306,1)" font-size="23.4">Down in BU</text>
<text transform="translate(507.77,963.6) scale(1.0434,1)" font-size="23.4">Up in BU</text>
<rect x="170.5" y="973.6" width="313.3" height="13.6" fill="#2e6093"/>
<rect x="497.6" y="973.6" width="130.6" height="13.6" fill="#e60012"/>
<rect x="173.75" y="995.5" width="454.54999999999995" height="428.70000000000005" fill="#fff" stroke="none"/>
<line x1="179" x2="179" y1="995.5" y2="1424.2" stroke="#eeeeee" stroke-width="1.1"/>
<line x1="285.5" x2="285.5" y1="995.5" y2="1424.2" stroke="#eeeeee" stroke-width="1.1"/>
<line x1="391.75" x2="391.75" y1="995.5" y2="1424.2" stroke="#eeeeee" stroke-width="1.1"/>
<line x1="498" x2="498" y1="995.5" y2="1424.2" stroke="#eeeeee" stroke-width="1.1"/>
<line x1="604.2" x2="604.2" y1="995.5" y2="1424.2" stroke="#eeeeee" stroke-width="1.1"/>
<line x1="173.75" x2="628.3" y1="1035.1" y2="1035.1" stroke="#eeeeee" stroke-width="1.1"/>
<line x1="173.75" x2="628.3" y1="1150.3" y2="1150.3" stroke="#eeeeee" stroke-width="1.1"/>
<line x1="173.75" x2="628.3" y1="1265.4" y2="1265.4" stroke="#eeeeee" stroke-width="1.1"/>
<line x1="173.75" x2="628.3" y1="1380.6" y2="1380.6" stroke="#eeeeee" stroke-width="1.1"/>
<line x1="173.75" x2="605" y1="1380.6" y2="1380.6" stroke="#6e6e6e" stroke-width="1.3" stroke-dasharray="28.7 28.7"/>
<circle cx="480.32" cy="1235.32" r="4.4" fill="#bebebe"/>
<circle cx="477.37" cy="1257.8" r="4.4" fill="#bebebe"/>
<circle cx="479.14" cy="1267.61" r="4.4" fill="#bebebe"/>
<circle cx="480.91" cy="1278.85" r="4.4" fill="#bebebe"/>
<circle cx="476.77" cy="1299.19" r="4.4" fill="#bebebe"/>
<circle cx="477.96" cy="1304.52" r="4.4" fill="#bebebe"/>
<circle cx="484.46" cy="1302.39" r="4.4" fill="#bebebe"/>
<circle cx="480.32" cy="1316.34" r="4.4" fill="#bebebe"/>
<circle cx="481.27" cy="1321.08" r="4.4" fill="#bebebe"/>
<circle cx="481.51" cy="1324.62" r="4.4" fill="#bebebe"/>
<circle cx="483.28" cy="1332.9" r="4.4" fill="#bebebe"/>
<circle cx="484.46" cy="1337.63" r="4.4" fill="#bebebe"/>
<circle cx="485.05" cy="1343.55" r="4.4" fill="#bebebe"/>
<circle cx="485.65" cy="1348.28" r="4.4" fill="#bebebe"/>
<circle cx="486.24" cy="1351.24" r="4.4" fill="#bebebe"/>
<circle cx="476.77" cy="1348.28" r="4.4" fill="#bebebe"/>
<circle cx="480.32" cy="1357.15" r="4.4" fill="#bebebe"/>
<circle cx="483.28" cy="1368.39" r="4.4" fill="#bebebe"/>
<circle cx="483.87" cy="1371.34" r="4.4" fill="#bebebe"/>
<circle cx="484.46" cy="1374.3" r="4.4" fill="#bebebe"/>
<circle cx="485.05" cy="1377.26" r="4.4" fill="#bebebe"/>
<circle cx="485.65" cy="1380.22" r="4.4" fill="#bebebe"/>
<circle cx="486.24" cy="1383.17" r="4.4" fill="#bebebe"/>
<circle cx="486.83" cy="1386.13" r="4.4" fill="#bebebe"/>
<circle cx="487.42" cy="1389.09" r="4.4" fill="#bebebe"/>
<circle cx="488.01" cy="1392.04" r="4.4" fill="#bebebe"/>
<circle cx="488.37" cy="1395" r="4.4" fill="#bebebe"/>
<circle cx="488.84" cy="1397.96" r="4.4" fill="#bebebe"/>
<circle cx="489.19" cy="1401.27" r="4.4" fill="#bebebe"/>
<circle cx="489.55" cy="1404.46" r="4.4" fill="#bebebe"/>
<circle cx="514.62" cy="1232.96" r="4.4" fill="#bebebe"/>
<circle cx="516.63" cy="1262.53" r="4.4" fill="#bebebe"/>
<circle cx="512.02" cy="1294.46" r="4.4" fill="#bebebe"/>
<circle cx="511.08" cy="1300.97" r="4.4" fill="#bebebe"/>
<circle cx="517.94" cy="1301.32" r="4.4" fill="#bebebe"/>
<circle cx="515.22" cy="1308.66" r="4.4" fill="#bebebe"/>
<circle cx="514.62" cy="1313.98" r="4.4" fill="#bebebe"/>
<circle cx="513.09" cy="1324.03" r="4.4" fill="#bebebe"/>
<circle cx="511.67" cy="1332.9" r="4.4" fill="#bebebe"/>
<circle cx="518.76" cy="1340" r="4.4" fill="#bebebe"/>
<circle cx="518.17" cy="1342.96" r="4.4" fill="#bebebe"/>
<circle cx="517.58" cy="1345.91" r="4.4" fill="#bebebe"/>
<circle cx="508.95" cy="1349.46" r="4.4" fill="#bebebe"/>
<circle cx="516.4" cy="1348.87" r="4.4" fill="#bebebe"/>
<circle cx="515.81" cy="1351.83" r="4.4" fill="#bebebe"/>
<circle cx="515.22" cy="1354.43" r="4.4" fill="#bebebe"/>
<circle cx="514.62" cy="1357.15" r="4.4" fill="#bebebe"/>
<circle cx="512.85" cy="1360.7" r="4.4" fill="#bebebe"/>
<circle cx="512.26" cy="1363.66" r="4.4" fill="#bebebe"/>
<circle cx="511.67" cy="1366.61" r="4.4" fill="#bebebe"/>
<circle cx="511.08" cy="1369.57" r="4.4" fill="#bebebe"/>
<circle cx="510.6" cy="1372.53" r="4.4" fill="#bebebe"/>
<circle cx="510.13" cy="1375.48" r="4.4" fill="#bebebe"/>
<circle cx="509.54" cy="1378.44" r="4.4" fill="#bebebe"/>
<circle cx="508.95" cy="1381.4" r="4.4" fill="#bebebe"/>
<circle cx="508.47" cy="1384.36" r="4.4" fill="#bebebe"/>
<circle cx="508.12" cy="1387.31" r="4.4" fill="#bebebe"/>
<circle cx="507.53" cy="1390.62" r="4.4" fill="#bebebe"/>
<circle cx="506.94" cy="1393.82" r="4.4" fill="#bebebe"/>
<circle cx="505.99" cy="1404.23" r="4.4" fill="#bebebe"/>
<circle cx="352.21" cy="1015.38" r="4.4" fill="#2e6295"/>
<circle cx="448.18" cy="1018.2" r="4.4" fill="#2e6295"/>
<circle cx="382.31" cy="1044.73" r="4.4" fill="#2e6295"/>
<circle cx="440.09" cy="1062.05" r="4.4" fill="#2e6295"/>
<circle cx="399.25" cy="1065.06" r="4.4" fill="#2e6295"/>
<circle cx="412.8" cy="1083.31" r="4.4" fill="#2e6295"/>
<circle cx="451.38" cy="1094.23" r="4.4" fill="#2e6295"/>
<circle cx="476.22" cy="1111.16" r="4.4" fill="#2e6295"/>
<circle cx="368.95" cy="1120.01" r="4.4" fill="#2e6295"/>
<circle cx="443.47" cy="1139.39" r="4.4" fill="#2e6295"/>
<circle cx="397.75" cy="1145.79" r="4.4" fill="#2e6295"/>
<circle cx="474.71" cy="1148.42" r="4.4" fill="#2e6295"/>
<circle cx="409.22" cy="1157.83" r="4.4" fill="#2e6295"/>
<circle cx="468.5" cy="1161.22" r="4.4" fill="#2e6295"/>
<circle cx="456.27" cy="1172.51" r="4.4" fill="#2e6295"/>
<circle cx="470.76" cy="1172.89" r="4.4" fill="#2e6295"/>
<circle cx="461.16" cy="1187.75" r="4.4" fill="#2e6295"/>
<circle cx="427.85" cy="1181.92" r="4.4" fill="#2e6295"/>
<circle cx="430.68" cy="1186.06" r="4.4" fill="#2e6295"/>
<circle cx="434.06" cy="1190.76" r="4.4" fill="#2e6295"/>
<circle cx="465.87" cy="1203.56" r="4.4" fill="#2e6295"/>
<circle cx="467.75" cy="1209.96" r="4.4" fill="#2e6295"/>
<circle cx="469.25" cy="1217.11" r="4.4" fill="#2e6295"/>
<circle cx="443.47" cy="1207.14" r="4.4" fill="#2e6295"/>
<circle cx="346" cy="1196.41" r="4.4" fill="#2e6295"/>
<circle cx="355.4" cy="1202.05" r="4.4" fill="#2e6295"/>
<circle cx="357.85" cy="1203.18" r="4.4" fill="#2e6295"/>
<circle cx="360.11" cy="1204.31" r="4.4" fill="#2e6295"/>
<circle cx="363.87" cy="1206.38" r="4.4" fill="#2e6295"/>
<circle cx="367.64" cy="1208.26" r="4.4" fill="#2e6295"/>
<circle cx="377.42" cy="1214.29" r="4.4" fill="#2e6295"/>
<circle cx="387.96" cy="1220.87" r="4.4" fill="#2e6295"/>
<circle cx="405.27" cy="1234.05" r="4.4" fill="#2e6295"/>
<circle cx="407.15" cy="1235.93" r="4.4" fill="#2e6295"/>
<circle cx="409.04" cy="1237.81" r="4.4" fill="#2e6295"/>
<circle cx="410.92" cy="1239.69" r="4.4" fill="#2e6295"/>
<circle cx="412.8" cy="1241.57" r="4.4" fill="#2e6295"/>
<circle cx="417.13" cy="1244.4" r="4.4" fill="#2e6295"/>
<circle cx="420.33" cy="1248.16" r="4.4" fill="#2e6295"/>
<circle cx="422.21" cy="1250.04" r="4.4" fill="#2e6295"/>
<circle cx="424.09" cy="1251.92" r="4.4" fill="#2e6295"/>
<circle cx="425.97" cy="1253.81" r="4.4" fill="#2e6295"/>
<circle cx="427.85" cy="1256.06" r="4.4" fill="#2e6295"/>
<circle cx="429.74" cy="1258.13" r="4.4" fill="#2e6295"/>
<circle cx="431.62" cy="1260.2" r="4.4" fill="#2e6295"/>
<circle cx="433.5" cy="1262.27" r="4.4" fill="#2e6295"/>
<circle cx="435.38" cy="1264.16" r="4.4" fill="#2e6295"/>
<circle cx="437.26" cy="1266.04" r="4.4" fill="#2e6295"/>
<circle cx="445.36" cy="1276.76" r="4.4" fill="#2e6295"/>
<circle cx="448.55" cy="1281.66" r="4.4" fill="#2e6295"/>
<circle cx="449.87" cy="1283.54" r="4.4" fill="#2e6295"/>
<circle cx="452.32" cy="1286.74" r="4.4" fill="#2e6295"/>
<circle cx="454.2" cy="1290.12" r="4.4" fill="#2e6295"/>
<circle cx="460.41" cy="1300.47" r="4.4" fill="#2e6295"/>
<circle cx="462.67" cy="1305.56" r="4.4" fill="#2e6295"/>
<circle cx="463.99" cy="1308.94" r="4.4" fill="#2e6295"/>
<circle cx="465.49" cy="1312.14" r="4.4" fill="#2e6295"/>
<circle cx="466.43" cy="1314.59" r="4.4" fill="#2e6295"/>
<circle cx="467.37" cy="1316.85" r="4.4" fill="#2e6295"/>
<circle cx="468.88" cy="1319.67" r="4.4" fill="#2e6295"/>
<circle cx="470.2" cy="1322.49" r="4.4" fill="#2e6295"/>
<circle cx="471.32" cy="1325.31" r="4.4" fill="#2e6295"/>
<circle cx="472.45" cy="1328.14" r="4.4" fill="#2e6295"/>
<circle cx="473.77" cy="1331.52" r="4.4" fill="#2e6295"/>
<circle cx="474.9" cy="1334.72" r="4.4" fill="#2e6295"/>
<circle cx="475.84" cy="1337.92" r="4.4" fill="#2e6295"/>
<circle cx="476.78" cy="1341.31" r="4.4" fill="#2e6295"/>
<circle cx="448.18" cy="1215.23" r="4.4" fill="#2e6295"/>
<circle cx="450.44" cy="1218.99" r="4.4" fill="#2e6295"/>
<circle cx="451.94" cy="1221.81" r="4.4" fill="#2e6295"/>
<circle cx="453.26" cy="1224.64" r="4.4" fill="#2e6295"/>
<circle cx="454.58" cy="1227.46" r="4.4" fill="#2e6295"/>
<circle cx="455.71" cy="1230.28" r="4.4" fill="#2e6295"/>
<circle cx="458.9" cy="1238.75" r="4.4" fill="#2e6295"/>
<circle cx="460.03" cy="1241.57" r="4.4" fill="#2e6295"/>
<circle cx="461.16" cy="1244.4" r="4.4" fill="#2e6295"/>
<circle cx="462.67" cy="1248.16" r="4.4" fill="#2e6295"/>
<circle cx="465.49" cy="1257.57" r="4.4" fill="#2e6295"/>
<circle cx="466.81" cy="1262.27" r="4.4" fill="#2e6295"/>
<circle cx="470.2" cy="1272.06" r="4.4" fill="#2e6295"/>
<circle cx="471.14" cy="1275.07" r="4.4" fill="#2e6295"/>
<circle cx="472.08" cy="1278.27" r="4.4" fill="#2e6295"/>
<circle cx="473.02" cy="1281.47" r="4.4" fill="#2e6295"/>
<circle cx="473.96" cy="1284.86" r="4.4" fill="#2e6295"/>
<circle cx="475.46" cy="1292.38" r="4.4" fill="#2e6295"/>
<circle cx="473.02" cy="1234.42" r="4.4" fill="#2e6295"/>
<circle cx="475.84" cy="1248.54" r="4.4" fill="#2e6295"/>
<circle cx="194.5" cy="1142.75" r="4.4" fill="#2e6295"/>
<circle cx="300" cy="1076.5" r="4.4" fill="#2e6295"/>
<circle cx="527.04" cy="1263.12" r="4.4" fill="#e73b3b"/>
<circle cx="562.17" cy="1258.15" r="4.4" fill="#e73b3b"/>
<circle cx="550.11" cy="1273.53" r="4.4" fill="#e73b3b"/>
<circle cx="523.26" cy="1275.54" r="4.4" fill="#e73b3b"/>
<circle cx="521.72" cy="1281.45" r="4.4" fill="#e73b3b"/>
<circle cx="530.36" cy="1308.3" r="4.4" fill="#e73b3b"/>
<circle cx="522.9" cy="1325.81" r="4.4" fill="#e73b3b"/>
<circle cx="521.72" cy="1329.95" r="4.4" fill="#e73b3b"/>
<circle cx="520.54" cy="1333.85" r="4.4" fill="#e73b3b"/>
<circle cx="547.7" cy="1210.7" r="4.4" fill="#e73b3b"/>
<circle cx="608" cy="1227.3" r="4.4" fill="#e73b3b"/>
<rect x="173.75" y="995.5" width="454.54999999999995" height="428.70000000000005" fill="none" stroke="#4d4d4d" stroke-width="1.3"/>
<line x1="179" x2="179" y1="1424.2" y2="1427.0" stroke="#4d4d4d" stroke-width="1.2"/>
<text transform="translate(143.29,1457.8) scale(0.9791,1)" font-size="24.8">−0.15</text>
<line x1="285.5" x2="285.5" y1="1424.2" y2="1427.0" stroke="#4d4d4d" stroke-width="1.2"/>
<text transform="translate(249.79,1457.8) scale(0.9771,1)" font-size="24.8">−0.10</text>
<line x1="391.75" x2="391.75" y1="1424.2" y2="1427.0" stroke="#4d4d4d" stroke-width="1.2"/>
<text transform="translate(356.04,1457.8) scale(0.9791,1)" font-size="24.8">−0.05</text>
<line x1="498" x2="498" y1="1424.2" y2="1427.0" stroke="#4d4d4d" stroke-width="1.2"/>
<text transform="translate(480.53,1457.8) scale(0.9811,1)" font-size="24.8">0.00</text>
<line x1="604.2" x2="604.2" y1="1424.2" y2="1427.0" stroke="#4d4d4d" stroke-width="1.2"/>
<text transform="translate(586.72,1457.8) scale(0.9837,1)" font-size="24.8">0.05</text>
<line x1="170.95" x2="173.75" y1="1035.1" y2="1035.1" stroke="#4d4d4d" stroke-width="1.2"/>
<text transform="translate(148.37,1043.9) scale(1.0124,1)" font-size="24.8">8</text>
<line x1="170.95" x2="173.75" y1="1150.3" y2="1150.3" stroke="#4d4d4d" stroke-width="1.2"/>
<text transform="translate(148.23,1159.1) scale(1.0232,1)" font-size="24.8">6</text>
<line x1="170.95" x2="173.75" y1="1265.4" y2="1265.4" stroke="#4d4d4d" stroke-width="1.2"/>
<text transform="translate(149.04,1274.2) scale(0.9330,1)" font-size="24.8">4</text>
<line x1="170.95" x2="173.75" y1="1380.6" y2="1380.6" stroke="#4d4d4d" stroke-width="1.2"/>
<text transform="translate(148.2,1389.4) scale(1.0457,1)" font-size="24.8">2</text>
<text transform="translate(339.6,1486.8) scale(1.0239,1)" font-size="23.5">Gene ratio</text>
<text transform="translate(98.75,1301.22) rotate(-90) scale(0.9727,1)" font-size="25">−Log10(q.value)</text>
<line x1="370" y1="1308.75" x2="474.6" y2="1334.7" stroke="#1a1a1a" stroke-width="1.1"/>
<line x1="462" y1="1041" x2="440.3" y2="1061.8" stroke="#1a1a1a" stroke-width="1.1"/>
<line x1="514.3" y1="1143.5" x2="516.5" y2="1259.6" stroke="#1a1a1a" stroke-width="1.1"/>
<line x1="548.2" y1="1220" x2="523.5" y2="1272.6" stroke="#1a1a1a" stroke-width="1.1"/>
<line x1="566.7" y1="1321.7" x2="506.9" y2="1400.3" stroke="#1a1a1a" stroke-width="1.1"/>
<text transform="translate(173.97,1018.25) scale(0.9990,1)" font-size="24.1">Folate metabolism</text>
<text transform="translate(410.26,1022.6) scale(1.0059,1)" font-size="24.1">Network map of SARS−CoV−2 signaling</text>
<text transform="translate(586.39,1050.6) scale(0.9659,1)" font-size="24.1">pathway</text>
<text transform="translate(479.82,1125) scale(1.0058,1)" font-size="24.1">positive regulation of immune</text>
<text transform="translate(567.82,1153.7) scale(1.0079,1)" font-size="24.1">response</text>
<text transform="translate(514.23,1198.2) scale(1.0032,1)" font-size="24.1">activation of immune response</text>
<text transform="translate(527.3,1301.3) scale(0.9983,1)" font-size="24.1">Adaptive Immune System</text>
<text transform="translate(141.96,1308.75) scale(1.0046,1)" font-size="24.1">MAPK1/MAPK3 signaling</text>
</g>
<g id="panel-d">
<text transform="translate(1047.14,48.8) scale(1.0572,1)" font-size="60.5" font-weight="bold">d</text>
<clipPath id="vclip"><ellipse cx="1535.6" cy="194.7" rx="131.8" ry="123.3"/></clipPath>
<clipPath id="vclip2"><ellipse cx="1422.8" cy="194.6" rx="132" ry="123.4"/></clipPath>
<ellipse cx="1535.6" cy="194.7" rx="131.8" ry="123.3" fill="#8997cd" stroke="#7385c9" stroke-width="1.5"/>
<ellipse cx="1422.8" cy="194.6" rx="132" ry="123.4" fill="#dc8487" stroke="#cf5b68" stroke-width="1.5"/>
<ellipse cx="1535.6" cy="194.7" rx="131.8" ry="123.3" fill="#a45773" stroke="#8f4a74" stroke-width="2.4" clip-path="url(#vclip2)"/>
<ellipse cx="1422.8" cy="194.6" rx="132" ry="123.4" fill="none" stroke="#c04c63" stroke-width="2.4" clip-path="url(#vclip)"/>
<text transform="translate(1231.25,73.75) scale(1.0604,1)" font-size="25.4" font-weight="bold">Female BU</text>
<text transform="translate(1585.25,338) scale(1.0595,1)" font-size="25.4" font-weight="bold">Male BU</text>
<text transform="translate(1347.05,200.6) scale(1.0227,1)" font-size="24.5" fill="#222">2</text>
<text transform="translate(1473.57,200) scale(1.0047,1)" font-size="24.5" fill="#222">2</text>
<text transform="translate(1585.58,201.8) scale(0.9964,1)" font-size="24.5" fill="#222">25</text>
<line x1="1315.75" y1="192" x2="1261" y2="192" stroke="#1a1a1a" stroke-width="1.6"/><polygon points="1248,192 1263,188.2 1263,195.8" fill="#1a1a1a"/>
<line x1="1647.3" y1="192" x2="1698.3" y2="192" stroke="#1a1a1a" stroke-width="1.6"/><polygon points="1711.3,192 1696.3,195.8 1696.3,188.2" fill="#1a1a1a"/>
<line x1="1481.5" y1="267.5" x2="1481.5" y2="326.5" stroke="#1a1a1a" stroke-width="1.6"/><polygon points="1481.5,339.5 1477.7,324.5 1485.3,324.5" fill="#1a1a1a"/>
<text transform="translate(1093.8,180.4) scale(0.9928,1)" font-size="20.2" font-weight="bold" fill="#1a1a1a">hsa-miR-486-3p</text>
<text transform="translate(1093.82,215.6) scale(0.9785,1)" font-size="20.2" font-weight="bold" fill="#1a1a1a">hsa-miR-6131</text>
<text transform="translate(1404.36,365.75) scale(0.9836,1)" font-size="20.2" font-weight="bold" fill="#1a1a1a">hsa-miR-644a</text>
<text transform="translate(1404.34,400.8) scale(0.9942,1)" font-size="20.2" font-weight="bold" fill="#1a1a1a">hsa-miR-6836-5p</text>
<text transform="translate(1722.8,90.8) scale(0.9925,1)" font-size="20.2" font-weight="bold" fill="#1a1a1a">hsa-miR-1-3p</text>
<text transform="translate(1722.79,125.9) scale(0.9962,1)" font-size="20.2" font-weight="bold" fill="#1a1a1a">hsa-miR-19a-3p</text>
<text transform="translate(1722.8,161) scale(0.9934,1)" font-size="20.2" font-weight="bold" fill="#1a1a1a">hsa-miR-19b-3p</text>
<text transform="translate(1722.8,195.4) scale(0.9924,1)" font-size="20.2" font-weight="bold" fill="#1a1a1a">hsa-miR-3199</text>
<text transform="translate(1722.8,230.5) scale(0.9932,1)" font-size="20.2" font-weight="bold" fill="#1a1a1a">hsa-miR-3652</text>
<text transform="translate(1722.8,265.8) scale(0.9920,1)" font-size="20.2" font-weight="bold" fill="#1a1a1a">hsa-miR-548g-3p</text>
<text transform="translate(1722.79,300.6) scale(0.9962,1)" font-size="20.2" font-weight="bold" fill="#1a1a1a">hsa-miR-889-5p</text>
<text x="1723.6" y="334.8" font-size="15" letter-spacing="6.4" fill="#333">......</text>
<rect x="1041.6" y="435.5" width="902.9000000000001" height="34.8" fill="#d0d0d0"/>
<rect x="1041.6" y="470.3" width="902.9000000000001" height="35.6" fill="#9bbfe1"/>
<rect x="1041.6" y="505.9" width="902.9000000000001" height="34.9" fill="#9bbfe1"/>
<rect x="1041.6" y="540.8" width="902.9000000000001" height="35.1" fill="#9bbfe1"/>
<rect x="1041.6" y="575.9" width="902.9000000000001" height="35.1" fill="#9bbfe1"/>
<rect x="1041.6" y="611" width="902.9000000000001" height="34.8" fill="#9bbfe1"/>
<rect x="1041.6" y="645.8" width="902.9000000000001" height="34.8" fill="#9bbfe1"/>
<rect x="1041.6" y="680.6" width="902.9000000000001" height="35.4" fill="#9bbfe1"/>
<rect x="1041.6" y="716" width="902.9000000000001" height="35.1" fill="#de8687"/>
<rect x="1041.6" y="751.1" width="902.9000000000001" height="34.8" fill="#926c85"/>
<rect x="1041.6" y="785.9" width="902.9000000000001" height="35.4" fill="#926c85"/>
<line x1="1041.6" x2="1041.6" y1="435.5" y2="821.3" stroke="#24242c" stroke-width="1.3"/>
<line x1="1262.3" x2="1262.3" y1="435.5" y2="821.3" stroke="#24242c" stroke-width="1.3"/>
<line x1="1424.1" x2="1424.1" y1="435.5" y2="821.3" stroke="#24242c" stroke-width="1.3"/>
<line x1="1588.4" x2="1588.4" y1="435.5" y2="821.3" stroke="#24242c" stroke-width="1.3"/>
<line x1="1796.4" x2="1796.4" y1="435.5" y2="821.3" stroke="#24242c" stroke-width="1.3"/>
<line x1="1944.5" x2="1944.5" y1="435.5" y2="821.3" stroke="#24242c" stroke-width="1.3"/>
<line x1="1041.6" x2="1944.5" y1="435.5" y2="435.5" stroke="#24242c" stroke-width="1.3"/>
<line x1="1041.6" x2="1944.5" y1="470.3" y2="470.3" stroke="#24242c" stroke-width="1.3"/>
<line x1="1041.6" x2="1944.5" y1="505.9" y2="505.9" stroke="#24242c" stroke-width="1.3"/>
<line x1="1041.6" x2="1944.5" y1="540.8" y2="540.8" stroke="#24242c" stroke-width="1.3"/>
<line x1="1041.6" x2="1944.5" y1="575.9" y2="575.9" stroke="#24242c" stroke-width="1.3"/>
<line x1="1041.6" x2="1944.5" y1="611" y2="611" stroke="#24242c" stroke-width="1.3"/>
<line x1="1041.6" x2="1944.5" y1="645.8" y2="645.8" stroke="#24242c" stroke-width="1.3"/>
<line x1="1041.6" x2="1944.5" y1="680.6" y2="680.6" stroke="#24242c" stroke-width="1.3"/>
<line x1="1041.6" x2="1944.5" y1="716" y2="716" stroke="#24242c" stroke-width="1.3"/>
<line x1="1041.6" x2="1944.5" y1="751.1" y2="751.1" stroke="#24242c" stroke-width="1.3"/>
<line x1="1041.6" x2="1944.5" y1="785.9" y2="785.9" stroke="#24242c" stroke-width="1.3"/>
<line x1="1041.6" x2="1944.5" y1="821.3" y2="821.3" stroke="#24242c" stroke-width="1.3"/>
<text transform="translate(1107.12,461.2) scale(0.9542,1)" font-size="24" font-weight="bold" fill="#0d0d12">miRNAs</text>
<text transform="translate(1319.15,461.2) scale(0.9542,1)" font-size="24" font-weight="bold" fill="#0d0d12">FDR</text>
<text transform="translate(1459.36,461.2) scale(0.9542,1)" font-size="24" font-weight="bold" fill="#0d0d12">LOG2FC</text>
<text transform="translate(1628.57,461.2) scale(0.9542,1)" font-size="24" font-weight="bold" fill="#0d0d12">Target gene</text>
<text transform="translate(1808.45,461.2) scale(0.9542,1)" font-size="24" font-weight="bold" fill="#0d0d12">References</text>
<text stroke="#0d0d12" stroke-width="0.55" transform="translate(1082.28,496) scale(0.9582,1)" font-size="23.9" fill="#0d0d12">hsa-miR-1-3p</text>
<text stroke="#0d0d12" stroke-width="0.55" transform="translate(1282.74,496) scale(0.9582,1)" font-size="23.9" fill="#0d0d12">0.25040505</text>
<text stroke="#0d0d12" stroke-width="0.55" transform="translate(1435.37,496) scale(0.9582,1)" font-size="23.9" fill="#0d0d12">-2.362907104</text>
<text stroke="#0d0d12" stroke-width="0.55" transform="translate(1605.32,496) scale(0.9582,1)" font-size="23.9" fill="#0d0d12">IFIT1/IFIT2/IFIT3</text>
<text stroke="#0d0d12" stroke-width="0.55" transform="translate(1819.21,496) scale(0.9582,1)" font-size="23.9" fill="#0d0d12">18668037</text>
<text stroke="#0d0d12" stroke-width="0.55" transform="translate(1069.51,530.97) scale(0.9582,1)" font-size="23.9" fill="#0d0d12">hsa-miR-19a-3p</text>
<text stroke="#0d0d12" stroke-width="0.55" transform="translate(1283.55,530.97) scale(0.9582,1)" font-size="23.9" fill="#0d0d12">0.11260668</text>
<text stroke="#0d0d12" stroke-width="0.55" transform="translate(1439.1,530.97) scale(0.9582,1)" font-size="23.9" fill="#0d0d12">2.249782584</text>
<text stroke="#0d0d12" stroke-width="0.55" transform="translate(1655.65,530.97) scale(0.9582,1)" font-size="23.9" fill="#0d0d12">IFITM1</text>
<text stroke="#0d0d12" stroke-width="0.55" transform="translate(1819.38,530.97) scale(0.9582,1)" font-size="23.9" fill="#0d0d12">27292025</text>
<text stroke="#0d0d12" stroke-width="0.55" transform="translate(1069.51,565.94) scale(0.9582,1)" font-size="23.9" fill="#0d0d12">hsa-miR-19b-3p</text>
<text stroke="#0d0d12" stroke-width="0.55" transform="translate(1276.39,565.94) scale(0.9582,1)" font-size="23.9" fill="#0d0d12">0.014121719</text>
<text stroke="#0d0d12" stroke-width="0.55" transform="translate(1439.44,565.94) scale(0.9582,1)" font-size="23.9" fill="#0d0d12">3.757274029</text>
<text stroke="#0d0d12" stroke-width="0.55" transform="translate(1655.65,565.94) scale(0.9582,1)" font-size="23.9" fill="#0d0d12">IFITM1</text>
<text stroke="#0d0d12" stroke-width="0.55" transform="translate(1819.38,565.94) scale(0.9582,1)" font-size="23.9" fill="#0d0d12">27292025</text>
<text stroke="#0d0d12" stroke-width="0.55" transform="translate(1079.76,600.91) scale(0.9582,1)" font-size="23.9" fill="#0d0d12">hsa-miR-3199</text>
<text stroke="#0d0d12" stroke-width="0.55" transform="translate(1282.74,600.91) scale(0.9582,1)" font-size="23.9" fill="#0d0d12">0.14893318</text>
<text stroke="#0d0d12" stroke-width="0.55" transform="translate(1435.6,600.91) scale(0.9582,1)" font-size="23.9" fill="#0d0d12">-2.025539269</text>
<text stroke="#0d0d12" stroke-width="0.55" transform="translate(1635.26,600.91) scale(0.9582,1)" font-size="23.9" fill="#0d0d12">IL7R/CD99</text>
<text stroke="#0d0d12" stroke-width="0.55" transform="translate(1819.21,600.91) scale(0.9582,1)" font-size="23.9" fill="#0d0d12">19536157</text>
<text stroke="#0d0d12" stroke-width="0.55" transform="translate(1079.81,635.88) scale(0.9582,1)" font-size="23.9" fill="#0d0d12">hsa-miR-3652</text>
<text stroke="#0d0d12" stroke-width="0.55" transform="translate(1276.33,635.88) scale(0.9582,1)" font-size="23.9" fill="#0d0d12">0.015321333</text>
<text stroke="#0d0d12" stroke-width="0.55" transform="translate(1439.32,635.88) scale(0.9582,1)" font-size="23.9" fill="#0d0d12">2.167874079</text>
<text stroke="#0d0d12" stroke-width="0.55" transform="translate(1667.73,635.88) scale(0.9582,1)" font-size="23.9" fill="#0d0d12">IL7R</text>
<text stroke="#0d0d12" stroke-width="0.55" transform="translate(1819.21,635.88) scale(0.9582,1)" font-size="23.9" fill="#0d0d12">19536157</text>
<text stroke="#0d0d12" stroke-width="0.55" transform="translate(1063.16,670.85) scale(0.9582,1)" font-size="23.9" fill="#0d0d12">hsa-miR-548g-3p</text>
<text stroke="#0d0d12" stroke-width="0.55" transform="translate(1276.16,670.85) scale(0.9582,1)" font-size="23.9" fill="#0d0d12">0.154684264</text>
<text stroke="#0d0d12" stroke-width="0.55" transform="translate(1435.55,670.85) scale(0.9582,1)" font-size="23.9" fill="#0d0d12">-2.808512853</text>
<text stroke="#0d0d12" stroke-width="0.55" transform="translate(1655.65,670.85) scale(0.9582,1)" font-size="23.9" fill="#0d0d12">IFITM1</text>
<text stroke="#0d0d12" stroke-width="0.55" transform="translate(1819.38,670.85) scale(0.9582,1)" font-size="23.9" fill="#0d0d12">23592263</text>
<text stroke="#0d0d12" stroke-width="0.55" transform="translate(1069.51,705.82) scale(0.9582,1)" font-size="23.9" fill="#0d0d12">hsa-miR-889-5p</text>
<text stroke="#0d0d12" stroke-width="0.55" transform="translate(1276.16,705.82) scale(0.9582,1)" font-size="23.9" fill="#0d0d12">0.003252014</text>
<text stroke="#0d0d12" stroke-width="0.55" transform="translate(1436.52,705.82) scale(0.9582,1)" font-size="23.9" fill="#0d0d12">-2.315311827</text>
<text stroke="#0d0d12" stroke-width="0.55" transform="translate(1667.73,705.82) scale(0.9582,1)" font-size="23.9" fill="#0d0d12">IL7R</text>
<text stroke="#0d0d12" stroke-width="0.55" transform="translate(1819.21,705.82) scale(0.9582,1)" font-size="23.9" fill="#0d0d12">19536157</text>
<text stroke="#0d0d12" stroke-width="0.55" transform="translate(1069.51,740.79) scale(0.9582,1)" font-size="23.9" fill="#0d0d12">hsa-miR-486-3p</text>
<text stroke="#0d0d12" stroke-width="0.55" transform="translate(1276.16,740.79) scale(0.9582,1)" font-size="23.9" fill="#0d0d12">0.294629294</text>
<text stroke="#0d0d12" stroke-width="0.55" transform="translate(1435.55,740.79) scale(0.9582,1)" font-size="23.9" fill="#0d0d12">-3.320328823</text>
<text stroke="#0d0d12" stroke-width="0.55" transform="translate(1655.59,740.79) scale(0.9582,1)" font-size="23.9" fill="#0d0d12">IFITM3</text>
<text stroke="#0d0d12" stroke-width="0.55" transform="translate(1819.38,740.79) scale(0.9582,1)" font-size="23.9" fill="#0d0d12">26701625</text>
<text stroke="#0d0d12" stroke-width="0.55" transform="translate(1079.24,775.76) scale(0.9582,1)" font-size="23.9" fill="#0d0d12">hsa-miR-644a</text>
<text stroke="#0d0d12" stroke-width="0.55" transform="translate(1276.45,775.76) scale(0.9582,1)" font-size="23.9" fill="#0d0d12">0.219900207</text>
<text stroke="#0d0d12" stroke-width="0.55" transform="translate(1435.55,775.76) scale(0.9582,1)" font-size="23.9" fill="#0d0d12">-6.303867676</text>
<text stroke="#0d0d12" stroke-width="0.55" transform="translate(1655.65,775.76) scale(0.9582,1)" font-size="23.9" fill="#0d0d12">IFITM1</text>
<text stroke="#0d0d12" stroke-width="0.55" transform="translate(1819.38,775.76) scale(0.9582,1)" font-size="23.9" fill="#0d0d12">23592263</text>
<text stroke="#0d0d12" stroke-width="0.55" transform="translate(1063.16,810.73) scale(0.9582,1)" font-size="23.9" fill="#0d0d12">hsa-miR-6836-5p</text>
<text stroke="#0d0d12" stroke-width="0.55" transform="translate(1276.33,810.73) scale(0.9582,1)" font-size="23.9" fill="#0d0d12">0.093412773</text>
<text stroke="#0d0d12" stroke-width="0.55" transform="translate(1446.08,810.73) scale(0.9582,1)" font-size="23.9" fill="#0d0d12">4.08759971</text>
<text stroke="#0d0d12" stroke-width="0.55" transform="translate(1655.59,810.73) scale(0.9582,1)" font-size="23.9" fill="#0d0d12">IFITM3</text>
<text stroke="#0d0d12" stroke-width="0.55" transform="translate(1819.38,810.73) scale(0.9582,1)" font-size="23.9" fill="#0d0d12">27292025</text>
<text transform="translate(1431.11,846.3) scale(0.9752,1)" font-size="24.2">Blue, male BU; Red, female BU; Purple, common</text>
</g>
<g id="panel-e">
<text transform="translate(973.23,954.4) scale(1.0633,1)" font-size="60.5" font-weight="bold">e</text>
<rect x="1156.3" y="1231.8" width="37.9" height="201.4" fill="#35558f" stroke="#2a4391" stroke-width="1"/>
<rect x="1210.6" y="1135.2" width="39.2" height="298" fill="#c81e43" stroke="#c40d3a" stroke-width="1"/>
<rect x="1302.6" y="1327" width="39.5" height="106.2" fill="#35558f" stroke="#2a4391" stroke-width="1"/>
<rect x="1357.2" y="1143.1" width="39.5" height="290.1" fill="#c81e43" stroke="#c40d3a" stroke-width="1"/>
<path d="M1175 1231.3 V1212.9 M1166 1212.9 H1184" fill="none" stroke="#35558f" stroke-width="2.4"/>
<path d="M1230.3 1134.7 V1114.7 M1221.3 1114.7 H1239.3" fill="none" stroke="#c81e43" stroke-width="2.4"/>
<path d="M1322.4 1326.5 V1310.2 M1313.4 1310.2 H1331.4" fill="none" stroke="#35558f" stroke-width="2.4"/>
<path d="M1377 1142.6 V1127 M1368 1127 H1386" fill="none" stroke="#c81e43" stroke-width="2.4"/>
<circle cx="1175.1" cy="1188.38" r="5.4" fill="#fff" stroke="#35558f" stroke-width="2.3"/>
<circle cx="1175.1" cy="1212" r="5.4" fill="#fff" stroke="#35558f" stroke-width="2.3"/>
<circle cx="1166.51" cy="1221.21" r="5.4" fill="#fff" stroke="#35558f" stroke-width="2.3"/>
<circle cx="1183.69" cy="1232.87" r="5.4" fill="#fff" stroke="#35558f" stroke-width="2.3"/>
<circle cx="1175.1" cy="1307.43" r="5.4" fill="#fff" stroke="#35558f" stroke-width="2.3"/>
<circle cx="1230.33" cy="1061.65" r="5.4" fill="#fff" stroke="#c81e43" stroke-width="2.3"/>
<circle cx="1230.33" cy="1120.87" r="5.4" fill="#fff" stroke="#c81e43" stroke-width="2.3"/>
<circle cx="1221.74" cy="1150.94" r="5.4" fill="#fff" stroke="#c81e43" stroke-width="2.3"/>
<circle cx="1238.61" cy="1166.28" r="5.4" fill="#fff" stroke="#c81e43" stroke-width="2.3"/>
<circle cx="1230.33" cy="1184.69" r="5.4" fill="#fff" stroke="#c81e43" stroke-width="2.3"/>
<circle cx="1313.79" cy="1289.63" r="5.4" fill="#fff" stroke="#35558f" stroke-width="2.3"/>
<circle cx="1330.97" cy="1282.27" r="5.4" fill="#fff" stroke="#35558f" stroke-width="2.3"/>
<circle cx="1322.38" cy="1344.25" r="5.4" fill="#fff" stroke="#35558f" stroke-width="2.3"/>
<circle cx="1330.67" cy="1355.91" r="5.4" fill="#fff" stroke="#35558f" stroke-width="2.3"/>
<circle cx="1313.79" cy="1367.57" r="5.4" fill="#fff" stroke="#35558f" stroke-width="2.3"/>
<circle cx="1385.59" cy="1100.31" r="5.4" fill="#fff" stroke="#c81e43" stroke-width="2.3"/>
<circle cx="1368.41" cy="1113.2" r="5.4" fill="#fff" stroke="#c81e43" stroke-width="2.3"/>
<circle cx="1377" cy="1144.5" r="5.4" fill="#fff" stroke="#c81e43" stroke-width="2.3"/>
<circle cx="1385.28" cy="1175.8" r="5.4" fill="#fff" stroke="#c81e43" stroke-width="2.3"/>
<circle cx="1368.41" cy="1190.22" r="5.4" fill="#fff" stroke="#c81e43" stroke-width="2.3"/>
<path d="M1138 1008.9 V1433.2" stroke="#000" stroke-width="1.8" fill="none"/>
<path d="M1133.4 1433.2 H1414.1" stroke="#000" stroke-width="2" fill="none"/>
<path d="M1133.4 1008.9 H1138" stroke="#000" stroke-width="1.8" fill="none"/>
<text transform="translate(1108.85,1021.9) scale(1.0000,1)" font-size="37.3">4</text>
<path d="M1133.4 1114.7 H1138" stroke="#000" stroke-width="1.8" fill="none"/>
<text transform="translate(1108.85,1127.7) scale(1.0000,1)" font-size="37.3">3</text>
<path d="M1133.4 1221.2 H1138" stroke="#000" stroke-width="1.8" fill="none"/>
<text transform="translate(1108.85,1234.2) scale(1.0000,1)" font-size="37.3">2</text>
<path d="M1133.4 1327.4 H1138" stroke="#000" stroke-width="1.8" fill="none"/>
<text transform="translate(1108.85,1340.4) scale(1.0000,1)" font-size="37.3">1</text>
<path d="M1133.4 1433.2 H1138" stroke="#000" stroke-width="1.8" fill="none"/>
<text transform="translate(1108.85,1446.2) scale(1.0000,1)" font-size="37.3">0</text>
<path d="M1202.4 1433.2 V1439.7" stroke="#000" stroke-width="1.8" fill="none"/>
<path d="M1349.1 1433.2 V1439.7" stroke="#000" stroke-width="1.8" fill="none"/>
<text transform="translate(1176.06,1475) scale(0.9874,1)" font-size="36">HC</text>
<text transform="translate(1324.19,1475) scale(0.9756,1)" font-size="36">BU</text>
<path d="M1169 1077.3 V1034.3 H1232.8 V1044.2" fill="none" stroke="#000" stroke-width="3.0" stroke-linejoin="miter"/>
<path d="M1168.3 996.6 V982.8 H1325.8 V1185.9" fill="none" stroke="#000" stroke-width="3.0" stroke-linejoin="miter"/>
<path d="M1318.7 955.8 V929.1 H1377.9 V1077.3" fill="none" stroke="#000" stroke-width="3.0" stroke-linejoin="miter"/>
<text stroke="#000" stroke-width="1.1" stroke-linejoin="round" transform="translate(1190.2,1024.2) scale(0.9082,1)" font-size="36.91" font-weight="bold">#</text>
<text transform="translate(1238.65,984.31) scale(1.0080,1)" font-size="49.73" font-weight="bold">*</text>
<text stroke="#000" stroke-width="1.1" stroke-linejoin="round" transform="translate(1330.56,917.6) scale(1.0111,1)" font-size="35.44" font-weight="bold">##</text>
<text transform="translate(1060.8,1347.98) rotate(-90) scale(0.9849,1)" font-size="36.6" xml:space="preserve"><tspan font-style="italic">MX1</tspan><tspan> mRNA RQ</tspan></text>
<rect x="1599.5" y="1291.7" width="37.4" height="139.7" fill="#35558f" stroke="#2a4391" stroke-width="1"/>
<rect x="1653.2" y="1175.1" width="38.9" height="256.3" fill="#c81e43" stroke="#c40d3a" stroke-width="1"/>
<rect x="1744" y="1358.5" width="38.6" height="72.9" fill="#35558f" stroke="#2a4391" stroke-width="1"/>
<rect x="1798" y="1299" width="38.6" height="132.4" fill="#c81e43" stroke="#c40d3a" stroke-width="1"/>
<path d="M1618.3 1291.2 V1272.8 M1609.3 1272.8 H1627.3" fill="none" stroke="#35558f" stroke-width="2.4"/>
<path d="M1672.6 1174.6 V1143.9 M1663.6 1143.9 H1681.6" fill="none" stroke="#c81e43" stroke-width="2.4"/>
<path d="M1763.2 1358 V1347 M1754.2 1347 H1772.2" fill="none" stroke="#35558f" stroke-width="2.4"/>
<path d="M1817.5 1298.5 V1280.4 M1808.5 1280.4 H1826.5" fill="none" stroke="#c81e43" stroke-width="2.4"/>
<circle cx="1618.33" cy="1239.62" r="5.4" fill="#fff" stroke="#35558f" stroke-width="2.3"/>
<circle cx="1618.33" cy="1257.42" r="5.4" fill="#fff" stroke="#35558f" stroke-width="2.3"/>
<circle cx="1618.33" cy="1300.07" r="5.4" fill="#fff" stroke="#35558f" stroke-width="2.3"/>
<circle cx="1618.33" cy="1319.4" r="5.4" fill="#fff" stroke="#35558f" stroke-width="2.3"/>
<circle cx="1618.33" cy="1346.71" r="5.4" fill="#fff" stroke="#35558f" stroke-width="2.3"/>
<circle cx="1672.64" cy="1064.41" r="5.4" fill="#fff" stroke="#c81e43" stroke-width="2.3"/>
<circle cx="1672.64" cy="1157.08" r="5.4" fill="#fff" stroke="#c81e43" stroke-width="2.3"/>
<circle cx="1672.64" cy="1182.24" r="5.4" fill="#fff" stroke="#c81e43" stroke-width="2.3"/>
<circle cx="1672.64" cy="1227.96" r="5.4" fill="#fff" stroke="#c81e43" stroke-width="2.3"/>
<circle cx="1672.64" cy="1252.51" r="5.4" fill="#fff" stroke="#c81e43" stroke-width="2.3"/>
<circle cx="1763.47" cy="1315.72" r="5.4" fill="#fff" stroke="#35558f" stroke-width="2.3"/>
<circle cx="1763.16" cy="1347.32" r="5.4" fill="#fff" stroke="#35558f" stroke-width="2.3"/>
<circle cx="1763.16" cy="1368.8" r="5.4" fill="#fff" stroke="#35558f" stroke-width="2.3"/>
<circle cx="1771.45" cy="1378.62" r="5.4" fill="#fff" stroke="#35558f" stroke-width="2.3"/>
<circle cx="1754.88" cy="1387.21" r="5.4" fill="#fff" stroke="#35558f" stroke-width="2.3"/>
<circle cx="1817.47" cy="1226.12" r="5.4" fill="#fff" stroke="#c81e43" stroke-width="2.3"/>
<circle cx="1817.16" cy="1294.85" r="5.4" fill="#fff" stroke="#c81e43" stroke-width="2.3"/>
<circle cx="1817.16" cy="1312.03" r="5.4" fill="#fff" stroke="#c81e43" stroke-width="2.3"/>
<circle cx="1808.88" cy="1335.05" r="5.4" fill="#fff" stroke="#c81e43" stroke-width="2.3"/>
<circle cx="1825.45" cy="1333.51" r="5.4" fill="#fff" stroke="#c81e43" stroke-width="2.3"/>
<path d="M1581.8 1012.6 V1431.4" stroke="#000" stroke-width="1.8" fill="none"/>
<path d="M1576.6 1431.4 H1854.3" stroke="#000" stroke-width="2" fill="none"/>
<path d="M1576.6 1012.6 H1581.8" stroke="#000" stroke-width="1.8" fill="none"/>
<text transform="translate(1552.25,1025.6) scale(1.0000,1)" font-size="37.3">3</text>
<path d="M1576.6 1152.5 H1581.8" stroke="#000" stroke-width="1.8" fill="none"/>
<text transform="translate(1552.25,1165.5) scale(1.0000,1)" font-size="37.3">2</text>
<path d="M1576.6 1292.1 H1581.8" stroke="#000" stroke-width="1.8" fill="none"/>
<text transform="translate(1552.25,1305.1) scale(1.0000,1)" font-size="37.3">1</text>
<path d="M1576.6 1431.4 H1581.8" stroke="#000" stroke-width="1.8" fill="none"/>
<text transform="translate(1552.25,1444.4) scale(1.0000,1)" font-size="37.3">0</text>
<path d="M1645 1431.4 V1437.9" stroke="#000" stroke-width="1.8" fill="none"/>
<path d="M1789.9 1431.4 V1437.9" stroke="#000" stroke-width="1.8" fill="none"/>
<text transform="translate(1618.36,1473) scale(0.9874,1)" font-size="36">HC</text>
<text transform="translate(1765,1473) scale(0.9734,1)" font-size="36">BU</text>
<path d="M1616.5 1182.2 V1039 H1671.7 V1050.9" fill="none" stroke="#000" stroke-width="3.0" stroke-linejoin="miter"/>
<path d="M1614.3 1002.7 V982.2 H1765.6 V1131" fill="none" stroke="#000" stroke-width="3.0" stroke-linejoin="miter"/>
<path d="M1668.3 959.8 V938.3 H1816.5 V1077.9" fill="none" stroke="#000" stroke-width="3.0" stroke-linejoin="miter"/>
<path d="M1760.1 1279.5 V1148.8 H1820.8 V1161.4" fill="none" stroke="#000" stroke-width="3.0" stroke-linejoin="miter"/>
<text stroke="#000" stroke-width="1.1" stroke-linejoin="round" transform="translate(1635.49,1027.5) scale(0.9434,1)" font-size="35.74" font-weight="bold">#</text>
<text transform="translate(1679.46,983.19) scale(1.0096,1)" font-size="48.11" font-weight="bold">*</text>
<text transform="translate(1733.76,943.29) scale(1.0096,1)" font-size="48.11" font-weight="bold">*</text>
<text stroke="#000" stroke-width="1.1" stroke-linejoin="round" transform="translate(1783.7,1131.8) scale(0.9275,1)" font-size="35.74" font-weight="bold">#</text>
<text transform="translate(1505,1373.32) rotate(-90) scale(0.9737,1)" font-size="36.6" xml:space="preserve"><tspan font-style="italic">ANXA1</tspan><tspan> mRNA RQ</tspan></text>
<rect x="1885" y="925.1" width="33.1" height="25.5" fill="#35558f"/>
<text transform="translate(1873.3,978.4) scale(0.9866,1)" font-size="34.2">Male</text>
<rect x="1889.6" y="1018.1" width="33.1" height="25.4" fill="#c81e43"/>
<text transform="translate(1860.51,1074.8) scale(0.9841,1)" font-size="34.2">Female</text>
</g>
<g id="panel-f">
<text transform="translate(19.34,1543.2) scale(1.0589,1)" font-size="60.5" font-weight="bold">f</text>
<rect x="214.5" y="1858.5" width="46.5" height="207.2" fill="#35558f" stroke="#2a4391" stroke-width="1"/>
<rect x="281.6" y="1767.3" width="45.3" height="298.4" fill="#c81e43" stroke="#c40d3a" stroke-width="1"/>
<rect x="391" y="1980.9" width="46.5" height="84.8" fill="#35558f" stroke="#2a4391" stroke-width="1"/>
<rect x="457.2" y="1840" width="46.2" height="225.7" fill="#c81e43" stroke="#c40d3a" stroke-width="1"/>
<path d="M238 1858 V1843.6 M227.5 1843.6 H248.5" fill="none" stroke="#35558f" stroke-width="2.4"/>
<path d="M304.2 1766.8 V1759.3 M293.7 1759.3 H314.7" fill="none" stroke="#c81e43" stroke-width="2.4"/>
<path d="M414.2 1980.4 V1971.7 M403.7 1971.7 H424.7" fill="none" stroke="#35558f" stroke-width="2.4"/>
<path d="M480.4 1839.5 V1833 M469.9 1833 H490.9" fill="none" stroke="#c81e43" stroke-width="2.4"/>
<circle cx="238.03" cy="1806.12" r="5.4" fill="#fff" stroke="#35558f" stroke-width="2.3"/>
<circle cx="238.03" cy="1840.79" r="5.4" fill="#fff" stroke="#35558f" stroke-width="2.3"/>
<circle cx="229.59" cy="1878.59" r="5.4" fill="#fff" stroke="#35558f" stroke-width="2.3"/>
<circle cx="246.46" cy="1878.59" r="5.4" fill="#fff" stroke="#35558f" stroke-width="2.3"/>
<circle cx="238.03" cy="1895.46" r="5.4" fill="#fff" stroke="#35558f" stroke-width="2.3"/>
<circle cx="295.82" cy="1749.89" r="5.4" fill="#fff" stroke="#c81e43" stroke-width="2.3"/>
<circle cx="312.37" cy="1744.9" r="5.4" fill="#fff" stroke="#c81e43" stroke-width="2.3"/>
<circle cx="304.25" cy="1773.63" r="5.4" fill="#fff" stroke="#c81e43" stroke-width="2.3"/>
<circle cx="312.37" cy="1783.01" r="5.4" fill="#fff" stroke="#c81e43" stroke-width="2.3"/>
<circle cx="295.82" cy="1790.82" r="5.4" fill="#fff" stroke="#c81e43" stroke-width="2.3"/>
<circle cx="414.21" cy="1947.94" r="5.4" fill="#fff" stroke="#35558f" stroke-width="2.3"/>
<circle cx="405.77" cy="1974.8" r="5.4" fill="#fff" stroke="#35558f" stroke-width="2.3"/>
<circle cx="422.64" cy="1977.93" r="5.4" fill="#fff" stroke="#35558f" stroke-width="2.3"/>
<circle cx="422.64" cy="2000.42" r="5.4" fill="#fff" stroke="#35558f" stroke-width="2.3"/>
<circle cx="405.77" cy="2010.41" r="5.4" fill="#fff" stroke="#35558f" stroke-width="2.3"/>
<circle cx="488.86" cy="1819.24" r="5.4" fill="#fff" stroke="#c81e43" stroke-width="2.3"/>
<circle cx="472.31" cy="1827.05" r="5.4" fill="#fff" stroke="#c81e43" stroke-width="2.3"/>
<circle cx="480.43" cy="1843.61" r="5.4" fill="#fff" stroke="#c81e43" stroke-width="2.3"/>
<circle cx="488.86" cy="1851.73" r="5.4" fill="#fff" stroke="#c81e43" stroke-width="2.3"/>
<circle cx="472.31" cy="1864.85" r="5.4" fill="#fff" stroke="#c81e43" stroke-width="2.3"/>
<path d="M193 1644.6 V2065.7" stroke="#000" stroke-width="1.8" fill="none"/>
<path d="M188.4 2065.7 H525.7" stroke="#000" stroke-width="2" fill="none"/>
<path d="M188.4 1644.6 H193" stroke="#000" stroke-width="1.8" fill="none"/>
<text transform="translate(165.37,1657.5) scale(0.9500,1)" font-size="36.4">5</text>
<path d="M188.4 1729.6 H193" stroke="#000" stroke-width="1.8" fill="none"/>
<text transform="translate(165.37,1742.5) scale(0.9500,1)" font-size="36.4">4</text>
<path d="M188.4 1813.9 H193" stroke="#000" stroke-width="1.8" fill="none"/>
<text transform="translate(165.37,1826.8) scale(0.9500,1)" font-size="36.4">3</text>
<path d="M188.4 1897.6 H193" stroke="#000" stroke-width="1.8" fill="none"/>
<text transform="translate(165.37,1910.5) scale(0.9500,1)" font-size="36.4">2</text>
<path d="M188.4 1982.6 H193" stroke="#000" stroke-width="1.8" fill="none"/>
<text transform="translate(165.37,1995.5) scale(0.9500,1)" font-size="36.4">1</text>
<path d="M188.4 2065.7 H193" stroke="#000" stroke-width="1.8" fill="none"/>
<text transform="translate(165.37,2078.6) scale(0.9500,1)" font-size="36.4">0</text>
<path d="M271.1 2065.7 V2072.2" stroke="#000" stroke-width="1.8" fill="none"/>
<path d="M447.6 2065.7 V2072.2" stroke="#000" stroke-width="1.8" fill="none"/>
<text transform="translate(244.9,2106.2) scale(1.0063,1)" font-size="36">HC</text>
<text transform="translate(422.03,2106.2) scale(0.9982,1)" font-size="36">BU</text>
<path d="M223.7 1713.7 V1670.6 H287.4 V1682.1" fill="none" stroke="#000" stroke-width="3.0" stroke-linejoin="miter"/>
<path d="M223 1633.7 V1619 H413 V1824.2" fill="none" stroke="#000" stroke-width="3.0" stroke-linejoin="miter"/>
<path d="M409.2 1597.8 V1566.2 H478.9 V1726.2" fill="none" stroke="#000" stroke-width="3.0" stroke-linejoin="miter"/>
<text stroke="#000" stroke-width="1.1" stroke-linejoin="round" transform="translate(235.05,1660.4) scale(1.0320,1)" font-size="35.44" font-weight="bold">##</text>
<text transform="translate(288.15,1621.34) scale(1.0689,1)" font-size="47.3" font-weight="bold">***</text>
<text stroke="#000" stroke-width="1.1" stroke-linejoin="round" transform="translate(416.27,1555.8) scale(0.9760,1)" font-size="36.47" font-weight="bold">###</text>
<text transform="translate(114.2,1985.42) rotate(-90) scale(0.9711,1)" font-size="36.6" xml:space="preserve"><tspan font-style="italic">IFIT1</tspan><tspan> mRNA RQ</tspan></text>
<rect x="755.4" y="1841" width="46.5" height="224.1" fill="#35558f" stroke="#2a4391" stroke-width="1"/>
<rect x="822.3" y="1763.5" width="45.2" height="301.6" fill="#c81e43" stroke="#c40d3a" stroke-width="1"/>
<rect x="931" y="1980.9" width="46.2" height="84.2" fill="#35558f" stroke="#2a4391" stroke-width="1"/>
<rect x="996.9" y="1799.1" width="46.2" height="266" fill="#c81e43" stroke="#c40d3a" stroke-width="1"/>
<path d="M779 1840.5 V1817.4 M768.5 1817.4 H789.5" fill="none" stroke="#35558f" stroke-width="2.4"/>
<path d="M844.9 1763 V1739 M834.4 1739 H855.4" fill="none" stroke="#c81e43" stroke-width="2.4"/>
<path d="M954.2 1980.4 V1961.7 M943.7 1961.7 H964.7" fill="none" stroke="#35558f" stroke-width="2.4"/>
<path d="M1020.1 1798.6 V1766.8 M1009.6 1766.8 H1030.6" fill="none" stroke="#c81e43" stroke-width="2.4"/>
<circle cx="778.98" cy="1773.01" r="5.4" fill="#fff" stroke="#35558f" stroke-width="2.3"/>
<circle cx="778.98" cy="1808.62" r="5.4" fill="#fff" stroke="#35558f" stroke-width="2.3"/>
<circle cx="778.98" cy="1838.3" r="5.4" fill="#fff" stroke="#35558f" stroke-width="2.3"/>
<circle cx="778.98" cy="1879.22" r="5.4" fill="#fff" stroke="#35558f" stroke-width="2.3"/>
<circle cx="778.98" cy="1913.27" r="5.4" fill="#fff" stroke="#35558f" stroke-width="2.3"/>
<circle cx="844.89" cy="1672.43" r="5.4" fill="#fff" stroke="#c81e43" stroke-width="2.3"/>
<circle cx="836.77" cy="1767.7" r="5.4" fill="#fff" stroke="#c81e43" stroke-width="2.3"/>
<circle cx="853.33" cy="1763.01" r="5.4" fill="#fff" stroke="#c81e43" stroke-width="2.3"/>
<circle cx="844.89" cy="1794.25" r="5.4" fill="#fff" stroke="#c81e43" stroke-width="2.3"/>
<circle cx="844.89" cy="1827.99" r="5.4" fill="#fff" stroke="#c81e43" stroke-width="2.3"/>
<circle cx="954.22" cy="1916.7" r="5.4" fill="#fff" stroke="#35558f" stroke-width="2.3"/>
<circle cx="954.22" cy="1963.56" r="5.4" fill="#fff" stroke="#35558f" stroke-width="2.3"/>
<circle cx="945.79" cy="1993.55" r="5.4" fill="#fff" stroke="#35558f" stroke-width="2.3"/>
<circle cx="962.34" cy="2002.6" r="5.4" fill="#fff" stroke="#35558f" stroke-width="2.3"/>
<circle cx="954.22" cy="2036.97" r="5.4" fill="#fff" stroke="#35558f" stroke-width="2.3"/>
<circle cx="1020.13" cy="1683.98" r="5.4" fill="#fff" stroke="#c81e43" stroke-width="2.3"/>
<circle cx="1012.01" cy="1801.44" r="5.4" fill="#fff" stroke="#c81e43" stroke-width="2.3"/>
<circle cx="1028.57" cy="1801.44" r="5.4" fill="#fff" stroke="#c81e43" stroke-width="2.3"/>
<circle cx="1020.13" cy="1826.43" r="5.4" fill="#fff" stroke="#c81e43" stroke-width="2.3"/>
<circle cx="1020.13" cy="1889.84" r="5.4" fill="#fff" stroke="#c81e43" stroke-width="2.3"/>
<path d="M734.3 1647.7 V2065.1" stroke="#000" stroke-width="1.8" fill="none"/>
<path d="M729.6 2065.1 H1064.8" stroke="#000" stroke-width="2" fill="none"/>
<path d="M729.6 1647.7 H734.3" stroke="#000" stroke-width="1.8" fill="none"/>
<text transform="translate(706.67,1660.6) scale(0.9500,1)" font-size="36.4">5</text>
<path d="M729.6 1731.5 H734.3" stroke="#000" stroke-width="1.8" fill="none"/>
<text transform="translate(706.67,1744.4) scale(0.9500,1)" font-size="36.4">4</text>
<path d="M729.6 1815.5 H734.3" stroke="#000" stroke-width="1.8" fill="none"/>
<text transform="translate(706.67,1828.4) scale(0.9500,1)" font-size="36.4">3</text>
<path d="M729.6 1898.6 H734.3" stroke="#000" stroke-width="1.8" fill="none"/>
<text transform="translate(706.67,1911.5) scale(0.9500,1)" font-size="36.4">2</text>
<path d="M729.6 1982.6 H734.3" stroke="#000" stroke-width="1.8" fill="none"/>
<text transform="translate(706.67,1995.5) scale(0.9500,1)" font-size="36.4">1</text>
<path d="M729.6 2065.1 H734.3" stroke="#000" stroke-width="1.8" fill="none"/>
<text transform="translate(706.67,2078) scale(0.9500,1)" font-size="36.4">0</text>
<path d="M812.1 2065.1 V2071.6" stroke="#000" stroke-width="1.8" fill="none"/>
<path d="M987.6 2065.1 V2071.6" stroke="#000" stroke-width="1.8" fill="none"/>
<text transform="translate(785.8,2106.2) scale(1.0063,1)" font-size="36">HC</text>
<text transform="translate(962.88,2106.2) scale(1.0140,1)" font-size="36">BU</text>
<path d="M779.3 1736.8 V1622.4 H952.3 V1825.8" fill="none" stroke="#000" stroke-width="3.0" stroke-linejoin="miter"/>
<path d="M948.9 1600 V1569.3 H1018.6 V1660.6" fill="none" stroke="#000" stroke-width="3.0" stroke-linejoin="miter"/>
<text transform="translate(840.96,1622.75) scale(1.0344,1)" font-size="47.03" font-weight="bold">**</text>
<text stroke="#000" stroke-width="1.1" stroke-linejoin="round" transform="translate(955.67,1557.4) scale(1.0002,1)" font-size="35.59" font-weight="bold">###</text>
<text transform="translate(655.2,1986.42) rotate(-90) scale(0.9692,1)" font-size="36.6" xml:space="preserve"><tspan font-style="italic">IFIT3</tspan><tspan> mRNA RQ</tspan></text>
<rect x="1334.2" y="1904.7" width="45.8" height="159.1" fill="#35558f" stroke="#2a4391" stroke-width="1"/>
<rect x="1400.4" y="1803.8" width="45.2" height="260" fill="#c81e43" stroke="#c40d3a" stroke-width="1"/>
<rect x="1509.1" y="1980" width="45.9" height="83.8" fill="#35558f" stroke="#2a4391" stroke-width="1"/>
<rect x="1574.7" y="1875.7" width="45.9" height="188.1" fill="#c81e43" stroke="#c40d3a" stroke-width="1"/>
<path d="M1423 1803.3 V1772 M1412.5 1772 H1433.5" fill="none" stroke="#c81e43" stroke-width="2.4"/>
<path d="M1532 1979.5 V1974.8 M1521.5 1974.8 H1542.5" fill="none" stroke="#35558f" stroke-width="2.4"/>
<path d="M1597.6 1875.2 V1861.1 M1587.1 1861.1 H1608.1" fill="none" stroke="#c81e43" stroke-width="2.4"/>
<circle cx="1357.11" cy="1896.09" r="5.4" fill="#fff" stroke="#35558f" stroke-width="2.3"/>
<circle cx="1348.67" cy="1902.96" r="5.4" fill="#fff" stroke="#35558f" stroke-width="2.3"/>
<circle cx="1365.23" cy="1902.96" r="5.4" fill="#fff" stroke="#35558f" stroke-width="2.3"/>
<circle cx="1351.48" cy="1914.2" r="5.4" fill="#fff" stroke="#35558f" stroke-width="2.3"/>
<circle cx="1362.73" cy="1911.08" r="5.4" fill="#fff" stroke="#35558f" stroke-width="2.3"/>
<circle cx="1423.02" cy="1699.6" r="5.4" fill="#fff" stroke="#c81e43" stroke-width="2.3"/>
<circle cx="1423.02" cy="1757.7" r="5.4" fill="#fff" stroke="#c81e43" stroke-width="2.3"/>
<circle cx="1408.96" cy="1849.23" r="5.4" fill="#fff" stroke="#c81e43" stroke-width="2.3"/>
<circle cx="1423.02" cy="1859.54" r="5.4" fill="#fff" stroke="#c81e43" stroke-width="2.3"/>
<circle cx="1437.07" cy="1858.6" r="5.4" fill="#fff" stroke="#c81e43" stroke-width="2.3"/>
<circle cx="1532.04" cy="1962.93" r="5.4" fill="#fff" stroke="#35558f" stroke-width="2.3"/>
<circle cx="1523.6" cy="1976.68" r="5.4" fill="#fff" stroke="#35558f" stroke-width="2.3"/>
<circle cx="1548.28" cy="1981.05" r="5.4" fill="#fff" stroke="#35558f" stroke-width="2.3"/>
<circle cx="1540.16" cy="1986.67" r="5.4" fill="#fff" stroke="#35558f" stroke-width="2.3"/>
<circle cx="1523.6" cy="1999.48" r="5.4" fill="#fff" stroke="#35558f" stroke-width="2.3"/>
<circle cx="1606.07" cy="1834.86" r="5.4" fill="#fff" stroke="#c81e43" stroke-width="2.3"/>
<circle cx="1589.51" cy="1848.92" r="5.4" fill="#fff" stroke="#c81e43" stroke-width="2.3"/>
<circle cx="1597.63" cy="1880.78" r="5.4" fill="#fff" stroke="#c81e43" stroke-width="2.3"/>
<circle cx="1606.07" cy="1902.96" r="5.4" fill="#fff" stroke="#c81e43" stroke-width="2.3"/>
<circle cx="1589.51" cy="1914.83" r="5.4" fill="#fff" stroke="#c81e43" stroke-width="2.3"/>
<path d="M1312.8 1647.1 V2063.8" stroke="#000" stroke-width="1.8" fill="none"/>
<path d="M1308 2063.8 H1642.6" stroke="#000" stroke-width="2" fill="none"/>
<path d="M1308 1647.1 H1312.8" stroke="#000" stroke-width="1.8" fill="none"/>
<text transform="translate(1284.37,1660) scale(0.9500,1)" font-size="36.4">5</text>
<path d="M1308 1730.8 H1312.8" stroke="#000" stroke-width="1.8" fill="none"/>
<text transform="translate(1284.37,1743.7) scale(0.9500,1)" font-size="36.4">4</text>
<path d="M1308 1814.6 H1312.8" stroke="#000" stroke-width="1.8" fill="none"/>
<text transform="translate(1284.37,1827.5) scale(0.9500,1)" font-size="36.4">3</text>
<path d="M1308 1897.6 H1312.8" stroke="#000" stroke-width="1.8" fill="none"/>
<text transform="translate(1284.37,1910.5) scale(0.9500,1)" font-size="36.4">2</text>
<path d="M1308 1981 H1312.8" stroke="#000" stroke-width="1.8" fill="none"/>
<text transform="translate(1284.37,1993.9) scale(0.9500,1)" font-size="36.4">1</text>
<path d="M1308 2063.8 H1312.8" stroke="#000" stroke-width="1.8" fill="none"/>
<text transform="translate(1284.37,2076.7) scale(0.9500,1)" font-size="36.4">0</text>
<path d="M1390.2 2063.8 V2070.3" stroke="#000" stroke-width="1.8" fill="none"/>
<path d="M1565.5 2063.8 V2070.3" stroke="#000" stroke-width="1.8" fill="none"/>
<text transform="translate(1362.7,2104.6) scale(1.0063,1)" font-size="36">HC</text>
<text transform="translate(1539.78,2104.6) scale(1.0140,1)" font-size="36">BU</text>
<path d="M1354 1832 V1674.9 H1422.4 V1685.9" fill="none" stroke="#000" stroke-width="3.0" stroke-linejoin="miter"/>
<path d="M1354.9 1653.4 V1622.4 H1530.5 V1824.2" fill="none" stroke="#000" stroke-width="3.0" stroke-linejoin="miter"/>
<path d="M1527 1600 V1569.3 H1596.1 V1660.6" fill="none" stroke="#000" stroke-width="3.0" stroke-linejoin="miter"/>
<text stroke="#000" stroke-width="1.1" stroke-linejoin="round" transform="translate(1372.67,1666.1) scale(1.0085,1)" font-size="34.71" font-weight="bold">##</text>
<text transform="translate(1425.65,1623.54) scale(1.0434,1)" font-size="47.3" font-weight="bold">*</text>
<text stroke="#000" stroke-width="1.1" stroke-linejoin="round" transform="translate(1540.97,1558) scale(0.9985,1)" font-size="35.15" font-weight="bold">##</text>
<text transform="translate(1225.8,1992.59) rotate(-90) scale(0.9522,1)" font-size="36.6" xml:space="preserve"><tspan font-style="italic">IFI44L</tspan><tspan> mRNA RQ</tspan></text>
<rect x="1747.6" y="1670.9" width="33.9" height="25.8" fill="#35558f"/>
<text transform="translate(1795.08,1696.1) scale(0.9851,1)" font-size="34.5">Male</text>
<rect x="1749.2" y="1763.9" width="33.3" height="26.3" fill="#c81e43"/>
<text transform="translate(1795.11,1790.2) scale(0.9755,1)" font-size="34.5">Female</text>
</g>
</svg>
</body></html>
